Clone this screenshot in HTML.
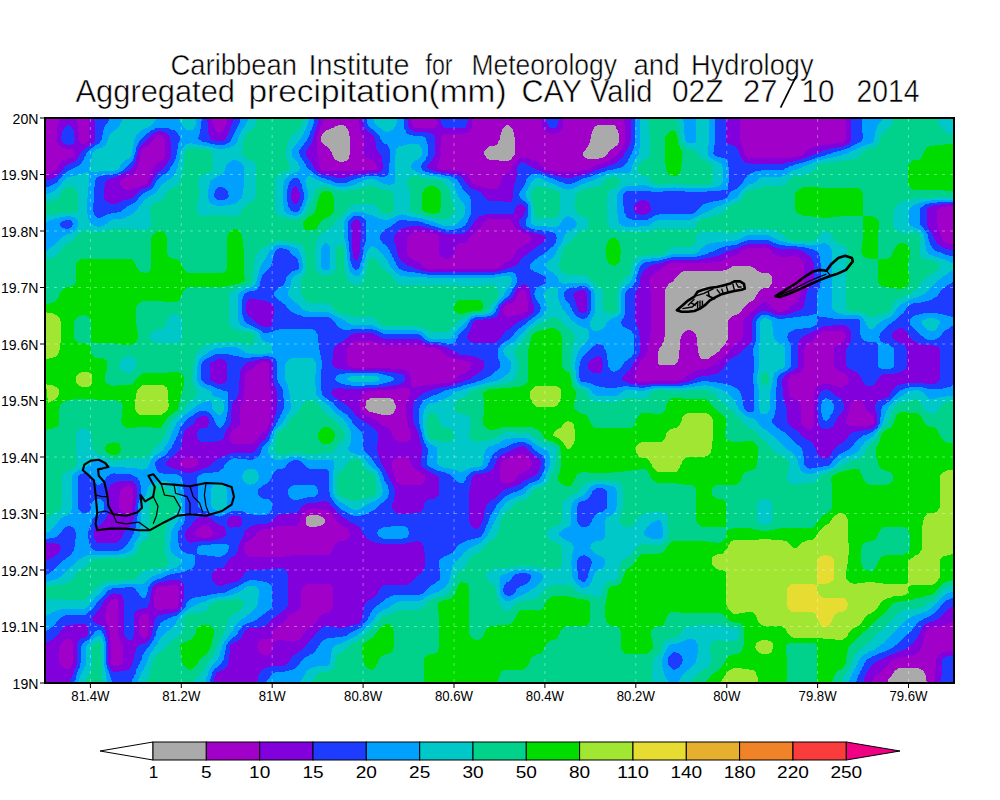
<!DOCTYPE html>
<html><head><meta charset="utf-8"><style>
html,body{margin:0;padding:0;background:#fff;width:1000px;height:800px;overflow:hidden}
svg{display:block}
text{font-family:"Liberation Sans",sans-serif;fill:#000}
.t1{font-size:29.5px;stroke:#fff;stroke-width:0.5px;paint-order:fill stroke}
.t2{font-size:32px;stroke:#fff;stroke-width:0.5px;paint-order:fill stroke}
.ax{font-size:15px}
.cb{font-size:17px}
</style></head><body>
<svg width="1000" height="800" viewBox="0 0 1000 800">
<rect width="1000" height="800" fill="#fff"/>
<defs><clipPath id="pc"><rect x="45" y="118" width="909" height="565"/></clipPath></defs>
<g clip-path="url(#pc)" shape-rendering="crispEdges">
<rect x="45.5" y="117.5" width="908" height="565" fill="#aaaaaa"/>
<path fill="#a000c8" d="M954 118L954 682L927 682L926 680L926 676L924 672L922 670L918 668L898 668L898 669L896 670L895 670L894 672L894 673L892 674L892 675L891 676L890 678L889 678L888 680L888 681L887 682L46 682L46 118ZM337 126L336 126L334 127L333 128L332 128L328 130L326 130L322 134L322 135L321 136L321 142L322 142L323 144L325 146L326 146L328 147L328 148L330 149L330 150L331 152L332 153L332 154L335 160L336 160L338 161L339 162L343 162L344 161L346 161L349 158L349 156L350 154L350 136L349 136L349 132L348 130L348 129L346 128L346 126L344 126L344 125L338 125ZM503 128L502 130L502 131L501 132L501 134L500 136L500 139L499 140L498 142L498 143L496 145L494 146L490 146L488 147L485 150L484 152L484 154L485 156L486 157L486 158L490 160L498 160L500 161L508 161L510 160L512 158L513 156L514 156L515 154L515 138L514 136L514 132L513 132L513 130L512 128L511 128L510 126L509 126L508 125L506 125ZM595 126L592 132L592 133L591 134L591 138L590 140L590 142L588 146L586 148L586 149L583 152L583 156L584 156L585 158L586 158L588 159L598 159L600 158L602 158L604 157L608 153L608 152L610 150L612 149L614 147L616 146L618 144L619 142L619 134L618 132L618 130L617 130L616 128L616 126L615 126L614 125L598 125L596 126ZM729 268L728 269L726 270L724 270L722 271L684 271L680 273L677 276L676 278L675 278L674 280L672 282L671 282L670 283L668 284L668 285L667 286L665 290L665 336L664 338L664 341L663 342L662 344L662 345L661 346L660 348L659 348L659 350L658 352L658 364L660 365L674 365L676 364L677 362L678 362L678 360L679 358L679 350L680 349L680 340L681 338L681 336L682 335L682 334L684 332L688 330L690 330L692 331L693 332L694 332L695 334L696 334L696 336L697 338L697 346L698 346L698 352L699 354L699 356L700 357L700 358L702 359L708 359L710 357L714 355L717 352L718 352L720 350L721 348L722 348L723 346L726 343L726 342L727 340L728 339L728 320L732 316L733 316L734 315L736 315L737 314L738 314L742 310L743 308L748 303L752 301L755 298L757 294L758 293L758 292L760 290L764 288L768 288L770 286L771 284L772 283L772 277L771 276L770 274L769 274L768 273L762 273L760 272L759 272L758 271L756 270L754 268L753 268L752 267L750 266L732 266L730 268ZM370 398L368 400L367 400L366 402L366 405L365 406L365 408L366 408L367 410L368 411L370 412L372 412L374 413L376 413L378 414L380 414L382 415L390 415L391 414L392 414L394 412L396 408L396 406L394 402L394 401L392 399L390 398ZM307 516L306 518L306 520L305 520L306 521L306 524L307 526L308 526L310 527L316 527L318 526L320 526L322 525L323 524L324 524L325 522L325 520L324 518L318 515L310 515L308 516Z"/>
<path fill="#8200dc" d="M59 119L60 118L76 118L77 120L77 124L78 125L78 132L79 134L79 140L80 141L80 142L81 144L84 144L88 142L89 140L89 118L212 118L212 120L213 122L213 124L214 124L214 126L215 128L215 130L216 130L217 132L218 132L220 133L222 132L223 130L224 129L224 128L225 126L226 125L226 124L227 122L227 120L228 119L228 118L325 118L323 120L323 122L322 124L322 125L321 126L320 128L320 129L319 130L319 132L317 136L317 154L318 154L318 158L319 160L319 166L320 167L320 168L321 170L322 170L324 171L362 171L364 170L374 170L376 169L377 168L377 166L376 164L376 163L374 162L374 161L372 160L370 160L370 159L368 158L366 158L366 157L364 156L364 154L363 154L363 150L364 148L364 137L362 136L362 134L361 134L360 132L360 126L359 126L359 118L411 118L411 122L412 123L412 124L413 126L415 128L435 128L436 127L436 124L437 122L437 118L472 118L472 127L471 128L470 130L470 131L469 132L467 132L466 133L464 133L463 134L443 134L441 138L441 154L440 156L440 159L439 160L439 162L437 166L437 168L438 168L442 170L450 170L452 171L458 171L459 172L462 172L464 173L465 174L466 174L468 175L468 176L469 178L470 178L470 180L471 182L472 182L473 184L474 184L476 185L477 186L480 186L482 187L484 187L485 188L486 188L488 189L496 189L500 185L500 184L502 180L502 178L503 176L504 176L505 174L506 174L508 172L509 172L511 170L515 162L518 159L520 158L521 158L522 157L524 158L528 158L530 159L531 160L534 160L536 161L536 162L538 162L540 163L540 164L542 165L542 166L544 167L544 168L546 169L547 170L550 170L552 171L556 171L557 172L575 172L578 171L582 171L584 170L587 170L588 169L590 168L591 168L592 167L598 164L600 164L604 162L606 162L610 160L612 158L613 158L619 152L620 150L622 148L625 142L625 126L624 124L624 118L740 118L740 140L742 144L742 146L743 148L743 150L744 150L744 152L745 154L745 156L746 156L748 158L790 158L792 157L796 157L798 156L800 156L802 155L808 149L810 148L811 148L812 147L814 147L816 146L818 146L820 145L824 145L826 144L833 144L834 143L842 143L844 142L845 140L846 139L846 118L954 118L954 205L952 206L948 206L946 207L942 207L940 208L938 210L937 210L937 224L938 224L938 228L939 230L939 232L940 232L940 234L941 236L941 238L942 239L942 240L944 242L946 243L947 244L950 244L952 245L954 245L954 621L952 622L951 622L950 623L948 624L947 624L946 625L944 625L942 626L939 626L938 627L932 627L930 628L929 628L928 629L926 630L926 632L925 632L925 636L924 638L924 641L923 642L923 644L922 646L922 648L921 648L920 650L920 651L918 652L918 653L916 654L915 654L914 655L912 656L907 656L906 657L902 657L900 658L896 658L896 659L894 660L893 660L892 661L890 662L890 663L888 664L888 665L886 666L886 667L884 668L884 669L882 670L882 671L880 672L880 673L878 674L878 675L876 676L876 677L874 678L874 680L873 680L872 682L46 682L46 175L48 174L50 174L51 173L54 172L56 170L57 168L58 167L58 166L59 164L61 162L61 161L64 160L68 158L70 158L72 157L74 155L74 151L72 150L72 149L66 149L64 148L62 148L60 146L59 146L57 142L57 128L58 126L58 124L59 122ZM156 136L154 138L152 142L148 146L146 147L144 147L143 148L141 152L141 154L140 156L140 160L139 162L139 164L138 166L138 168L136 172L135 172L132 175L130 175L122 179L121 180L120 182L120 184L121 186L122 187L122 188L124 189L126 189L126 190L130 190L134 188L135 188L136 187L138 186L140 186L142 185L144 185L146 184L147 184L148 182L148 180L150 176L150 174L153 168L154 167L154 166L156 164L158 163L160 161L162 160L164 158L165 156L165 140L164 138L164 137L162 136L162 135L158 135ZM487 220L486 221L484 222L482 224L482 225L478 229L476 230L470 236L470 237L469 238L468 240L466 242L465 242L464 243L460 243L458 244L456 246L456 248L455 248L455 250L454 252L454 253L453 254L452 256L450 258L448 259L446 259L444 258L443 258L442 257L440 256L440 254L439 254L439 238L438 236L438 235L436 234L434 234L432 233L426 233L424 232L414 232L410 234L408 236L408 237L407 238L407 254L408 254L408 256L410 257L410 258L412 259L413 260L414 260L416 261L418 261L418 262L420 263L422 265L422 266L424 267L425 268L426 268L428 269L496 269L500 267L505 262L506 262L508 261L509 260L510 260L514 256L515 254L516 253L516 252L517 250L518 250L519 248L520 248L522 246L523 246L524 245L526 244L527 244L531 240L531 238L530 236L526 234L525 234L524 233L522 233L520 232L518 232L518 231L516 230L516 229L515 228L514 226L514 225L513 224L512 222L512 221L510 220L510 219L490 219L488 220ZM748 248L744 250L743 250L742 251L740 252L738 254L737 254L736 255L734 256L732 256L730 257L729 258L728 258L724 260L723 260L722 261L720 262L710 262L708 263L670 263L666 265L664 267L662 268L662 269L656 272L654 274L653 274L651 276L650 278L650 279L649 280L649 282L650 283L650 290L651 292L651 332L650 334L650 340L649 342L649 344L648 346L648 351L647 352L646 354L646 355L641 360L638 366L638 368L636 372L636 374L635 374L635 376L634 378L635 380L636 380L640 382L650 382L652 381L678 381L680 380L681 380L683 378L684 378L686 376L688 375L689 374L690 374L698 370L700 370L702 369L706 369L710 367L711 366L712 366L716 362L718 361L719 360L720 360L722 358L724 357L724 356L726 355L726 354L728 353L728 352L730 350L731 348L735 344L736 344L738 342L740 341L742 339L742 338L743 336L743 322L745 318L746 318L747 316L748 316L749 314L750 314L751 312L752 312L753 310L754 310L758 306L760 305L762 303L764 302L766 302L768 303L768 304L770 305L770 306L774 310L778 312L782 312L786 310L787 310L790 307L790 306L792 305L793 304L794 304L796 303L796 302L798 301L798 300L799 298L800 297L800 294L801 292L801 290L802 289L802 286L803 284L804 283L804 263L803 262L802 260L801 260L800 258L799 258L798 257L796 257L794 256L790 256L788 257L780 257L778 256L776 256L774 254L773 254L772 252L772 251L770 250L770 249L768 248L766 248L764 247L762 248ZM521 290L519 292L518 294L518 295L517 296L516 298L516 299L515 300L514 302L513 302L512 303L510 304L508 304L504 306L504 307L503 308L503 310L504 311L504 314L505 316L506 316L508 317L510 317L512 316L514 316L516 315L518 315L520 314L522 314L526 312L528 310L528 301L527 300L527 296L526 294L526 291L524 290ZM820 333L818 335L816 336L816 337L812 341L810 342L809 342L808 343L806 344L806 345L805 346L804 348L804 367L803 368L802 370L802 371L800 372L800 373L798 373L794 375L792 375L790 376L790 377L789 378L788 380L788 386L789 388L789 396L790 396L791 398L792 398L794 400L796 400L798 401L798 402L800 403L800 404L801 406L801 422L803 426L805 428L806 428L810 430L812 429L812 428L813 426L814 426L814 394L815 392L815 390L816 390L816 388L818 387L818 386L822 384L830 384L834 386L836 386L838 387L842 387L846 385L848 383L848 382L849 380L849 378L848 376L847 376L846 374L845 374L844 373L842 372L840 372L838 371L835 368L834 366L834 348L836 346L838 345L839 344L840 344L842 343L844 341L844 340L845 338L846 337L846 336L844 332L843 332L842 331L824 331ZM352 343L349 346L348 348L347 348L347 364L348 366L350 367L352 367L354 368L390 368L392 369L402 369L404 370L406 370L410 374L410 376L411 378L411 386L412 387L414 388L416 387L418 387L420 386L424 386L426 385L430 385L432 384L438 384L440 383L448 383L450 382L452 382L454 380L456 379L456 378L458 377L458 376L466 372L470 368L471 366L471 364L468 361L466 361L464 360L460 360L458 359L456 359L454 358L452 358L444 354L440 350L434 347L426 347L424 346L422 346L420 345L384 345L382 344L380 344L378 343L376 343L372 341L356 341ZM262 362L258 364L257 364L252 369L250 370L249 370L247 372L246 374L246 375L245 376L245 388L244 390L244 397L243 398L243 400L242 402L241 402L241 404L240 406L240 424L238 426L238 427L236 428L235 428L234 429L232 430L232 431L231 432L230 434L230 440L231 442L233 444L252 444L254 442L256 441L256 440L258 438L259 436L260 436L261 434L262 433L262 432L264 431L265 430L266 430L267 428L268 427L268 426L269 424L269 422L270 421L270 414L271 412L271 390L270 388L270 383L269 382L269 364L268 362ZM402 388L400 389L396 389L394 390L378 390L376 391L368 391L366 392L365 392L363 394L362 396L361 396L361 398L360 400L360 410L361 412L362 412L363 414L364 414L366 416L368 417L370 417L376 420L378 422L380 423L380 424L388 428L390 430L392 434L392 436L394 438L395 440L396 440L398 442L406 442L408 441L411 438L411 434L410 432L410 430L408 426L408 422L407 422L407 416L406 414L406 404L407 402L407 400L408 400L408 398L409 396L410 396L410 389L408 388ZM854 400L852 402L851 402L850 404L850 407L849 408L849 412L848 414L848 416L847 416L847 418L846 420L846 424L848 425L849 426L868 426L870 425L872 425L874 423L874 418L872 416L872 415L870 414L866 410L866 409L865 408L864 406L864 404L863 404L862 402L860 400ZM515 456L514 457L512 457L510 458L506 458L504 460L503 460L502 462L501 462L501 466L500 468L500 480L501 482L502 482L504 483L510 483L511 482L512 482L516 478L517 476L518 476L519 474L520 474L522 473L523 472L524 472L530 469L530 468L531 466L532 466L532 462L530 460L530 459L528 458L528 457L522 454L520 455L518 455L516 456ZM184 458L180 462L180 464L182 465L182 466L186 468L192 468L198 465L198 460L196 458L194 457L186 457ZM395 458L393 460L392 462L392 468L394 472L394 474L395 476L395 478L396 479L396 480L397 482L399 484L400 484L402 485L420 485L421 484L422 484L424 483L424 482L425 480L425 476L424 475L422 474L419 472L418 471L416 470L414 468L413 468L412 466L412 465L411 464L410 462L410 461L406 457L398 457L396 458ZM122 488L122 489L120 490L120 495L119 496L119 508L120 508L120 510L122 511L122 512L126 514L130 514L131 512L132 511L132 504L133 502L133 490L132 488L130 486L128 486L126 487L124 487ZM306 510L306 511L304 512L304 513L302 514L302 516L301 516L301 518L300 520L300 522L299 522L298 524L298 525L296 526L277 526L276 527L274 528L271 528L270 529L264 529L262 530L260 530L260 531L258 532L257 532L256 534L256 535L254 536L254 537L252 538L252 539L250 540L249 540L248 542L247 542L246 544L245 544L245 546L244 548L244 550L246 554L248 556L250 557L284 557L286 556L292 556L294 555L328 555L329 554L330 554L331 552L332 552L332 550L333 548L334 547L334 546L335 544L336 544L337 542L338 542L340 541L344 541L345 540L346 540L348 539L348 538L349 536L350 535L350 534L348 530L346 528L340 525L337 522L334 516L333 516L332 514L330 512L326 510L322 510L320 509L310 509L308 510ZM201 526L200 527L198 528L198 529L196 530L196 532L195 532L195 534L196 535L196 536L198 537L200 537L202 538L206 538L208 537L210 537L212 536L213 534L213 532L212 530L208 526L206 525L204 525L202 526ZM306 584L306 585L304 586L303 586L302 588L302 589L301 590L301 606L300 608L300 609L298 610L298 611L296 612L294 612L294 613L292 614L290 614L290 615L288 616L288 617L287 618L286 620L285 620L284 622L282 624L281 624L280 625L278 626L277 626L275 628L274 630L273 630L273 632L272 634L272 638L269 638L268 639L262 639L260 640L260 641L258 642L258 646L257 646L257 648L258 649L258 650L259 652L262 655L264 655L266 656L270 654L271 652L272 652L272 648L273 646L273 642L274 642L276 641L277 640L284 640L286 641L298 641L298 640L300 640L301 638L302 637L302 636L303 634L304 634L305 632L306 631L306 630L308 629L308 628L310 628L312 627L312 626L314 625L314 624L316 623L316 622L317 620L318 620L318 618L319 616L320 616L322 615L322 614L324 614L326 613L328 613L329 612L332 610L332 608L333 606L333 588L332 586L330 585L329 584ZM160 586L156 588L156 589L155 590L155 596L154 598L154 606L155 608L156 609L158 610L162 610L164 609L174 609L178 607L178 604L179 602L179 588L176 585L170 585L168 586ZM111 600L109 602L108 604L108 605L107 606L107 608L106 610L106 613L105 614L105 620L106 621L106 622L107 624L108 625L108 626L109 628L109 630L110 632L110 638L111 640L111 664L112 665L114 666L118 666L120 665L121 664L122 664L123 662L123 646L120 640L120 639L119 638L119 634L118 632L118 601L116 599L114 599L112 600ZM142 614L140 616L140 617L139 618L139 634L140 636L142 638L146 638L147 636L148 635L148 630L149 628L149 616L147 614ZM64 640L62 642L62 643L60 644L60 646L59 646L59 662L60 663L60 664L61 666L62 667L66 669L70 669L70 668L73 662L73 644L72 642L72 641L70 639L66 639ZM563 118L563 126L562 128L562 129L558 133L556 133L554 134L551 134L550 133L548 133L546 132L546 131L544 130L544 129L543 128L542 126L542 118ZM948 652L950 651L954 651L954 682L934 682L934 680L935 678L935 670L936 669L936 660L937 658L938 657L938 656L939 654L940 654L942 653L943 652Z"/>
<path fill="#1e3cff" d="M207 118L207 122L208 123L208 132L209 134L209 136L210 137L210 138L211 140L214 140L216 141L222 141L224 140L225 140L226 139L226 138L227 136L228 135L228 134L230 130L230 128L233 122L233 120L234 119L234 118L319 118L318 120L318 123L317 124L317 126L316 128L316 129L315 130L315 132L314 134L314 136L313 138L313 140L311 144L309 146L306 152L306 156L307 158L308 158L309 160L310 161L310 162L312 163L312 164L313 166L314 167L314 168L315 170L316 170L317 172L318 172L320 173L320 174L322 174L324 175L326 175L327 176L332 176L334 177L336 177L337 178L344 178L346 177L348 177L350 176L352 176L354 175L358 175L360 174L366 174L368 173L378 173L380 172L382 170L383 168L383 164L382 162L382 157L381 156L380 154L380 153L378 152L378 151L377 150L376 148L376 143L375 142L375 140L374 138L374 136L373 136L372 134L371 134L370 133L368 132L366 130L366 129L364 128L364 124L363 124L363 118L407 118L407 120L408 121L408 126L409 128L410 128L410 130L412 130L414 131L414 132L426 132L428 133L430 133L431 134L432 134L434 135L434 136L435 138L435 154L434 156L434 157L433 158L432 160L428 164L428 165L427 166L427 168L428 168L430 170L432 170L434 171L436 171L437 172L440 172L442 173L448 173L450 174L454 174L456 175L458 175L458 176L460 176L462 178L464 179L464 180L465 182L466 182L466 184L468 185L468 186L470 187L470 188L472 189L473 189L474 190L476 190L478 191L479 192L480 192L482 194L483 196L484 196L485 198L486 198L487 200L488 200L490 201L502 201L503 202L511 202L512 201L512 200L513 198L513 190L514 188L514 184L515 182L516 181L516 178L517 176L517 168L519 164L520 163L522 162L524 163L526 163L526 164L528 165L529 166L530 166L532 167L532 168L534 168L536 169L536 170L538 170L540 171L542 171L542 172L544 172L546 173L547 174L550 174L552 175L554 175L555 176L558 176L560 177L562 177L564 178L572 178L576 176L579 176L580 175L584 175L586 174L587 174L588 173L590 173L596 170L598 170L602 168L604 168L608 166L609 166L609 165L612 165L616 163L618 161L620 160L621 158L624 155L624 154L625 152L627 150L630 144L630 142L631 140L631 118L726 118L726 142L728 143L728 144L730 144L732 145L733 146L734 146L736 147L736 148L738 150L739 152L739 154L740 155L740 156L741 158L742 159L742 160L744 162L746 163L750 163L752 164L783 164L784 163L786 163L788 162L792 162L794 161L796 161L798 160L800 160L804 158L806 158L814 154L816 154L824 150L827 150L828 149L830 149L832 148L836 148L838 147L842 147L848 144L850 142L851 140L851 118L954 118L954 202L953 203L952 203L950 204L942 204L940 205L934 205L928 208L927 208L927 226L928 226L928 228L929 230L930 230L931 232L932 233L932 234L933 236L934 237L934 238L935 240L936 241L936 242L937 244L938 244L940 246L942 247L943 248L944 248L946 249L948 249L949 250L952 250L954 251L954 606L952 606L952 607L950 608L949 608L948 610L947 610L946 612L945 612L944 614L943 614L942 616L941 616L940 618L939 618L938 619L936 620L935 620L934 621L932 622L929 622L928 623L926 624L925 624L924 626L923 626L922 628L922 629L921 630L920 632L920 633L919 634L918 636L918 637L917 638L916 640L915 640L914 642L912 644L911 644L910 646L909 646L908 648L906 648L906 649L904 650L902 650L902 651L900 651L898 652L897 652L896 653L894 654L892 654L892 655L890 655L888 656L887 656L886 657L884 658L883 658L882 659L880 660L879 660L878 661L876 662L875 662L874 664L873 664L872 666L871 666L870 668L870 669L868 670L868 672L867 672L866 674L866 676L865 676L864 678L864 681L863 682L257 682L257 680L258 680L258 676L259 674L260 674L260 672L262 671L262 670L264 669L264 668L266 668L268 667L270 667L271 666L284 666L286 665L286 664L288 663L288 662L290 661L290 660L291 658L292 658L292 656L294 655L295 654L296 654L298 653L298 652L300 651L301 650L302 650L303 648L304 648L305 646L306 646L307 644L308 643L308 642L310 641L310 640L312 639L312 638L314 637L314 636L315 634L316 634L317 632L318 632L319 630L320 630L321 628L322 628L324 626L330 626L332 627L336 627L338 628L344 628L346 627L348 627L348 626L350 626L352 625L356 625L356 624L358 624L360 622L361 620L362 619L362 616L363 614L363 610L364 609L364 606L365 604L366 603L366 602L368 601L368 600L370 600L372 599L372 598L374 598L375 596L376 596L377 594L378 593L378 592L379 590L380 589L380 588L382 587L382 586L384 585L406 585L410 583L411 582L412 582L413 580L414 580L415 578L417 576L418 576L419 574L420 574L422 573L422 572L423 570L424 570L424 568L425 566L425 554L424 552L424 547L423 546L422 544L422 543L418 541L416 541L414 542L411 542L410 543L406 543L404 544L382 544L380 543L376 543L372 541L370 541L368 539L366 538L366 537L363 534L362 532L361 531L361 530L360 528L358 526L354 524L353 524L352 523L350 522L349 522L346 519L344 518L341 516L338 513L336 512L336 511L331 506L330 504L328 502L326 501L322 501L320 502L318 502L316 503L308 503L306 504L305 504L304 505L302 506L302 507L300 508L300 509L299 510L298 512L297 512L296 513L290 513L288 514L280 514L276 516L276 517L274 518L274 519L272 520L272 521L266 524L258 524L256 525L254 525L248 528L246 530L245 530L244 532L244 535L243 536L242 538L242 539L241 540L240 542L240 544L239 544L239 546L238 548L238 552L237 552L236 554L236 555L234 556L233 556L232 557L230 558L230 559L228 560L228 562L227 562L226 564L226 565L224 566L224 567L222 568L218 568L214 570L214 571L213 572L212 574L212 580L213 582L216 585L218 585L220 586L222 586L226 584L227 584L230 583L232 583L234 582L236 582L238 581L239 580L240 580L241 578L242 577L242 576L244 575L244 574L245 572L246 572L248 571L249 570L264 570L266 569L276 569L278 568L282 568L284 569L285 570L286 570L287 572L287 574L288 575L288 605L287 606L286 608L284 610L283 610L282 612L281 612L280 614L279 614L278 615L276 616L276 617L274 618L273 618L272 620L271 620L270 622L269 622L268 624L267 624L266 626L264 626L264 627L260 627L258 628L248 628L248 629L246 630L245 630L244 632L244 634L243 634L242 636L242 638L241 638L240 640L238 640L238 641L236 642L234 642L232 644L231 644L230 646L230 653L229 654L229 660L228 662L228 665L227 666L226 668L225 668L224 670L222 670L222 671L220 671L218 672L217 672L216 674L216 675L215 676L214 678L214 682L70 682L70 680L71 678L72 678L72 676L73 674L74 673L74 670L75 668L76 668L76 666L77 664L77 644L78 643L78 642L79 640L81 638L84 638L86 637L86 636L88 635L88 627L87 626L86 624L74 624L74 625L68 625L66 626L65 626L64 628L63 628L62 630L61 630L60 632L60 633L58 634L58 635L56 636L56 637L54 638L52 640L50 640L50 641L48 642L47 642L46 644L46 561L47 560L48 560L50 559L50 558L52 558L54 556L56 555L57 554L58 554L59 552L60 551L60 550L61 548L60 546L60 545L58 544L56 544L54 543L48 543L46 542L46 180L49 180L50 179L52 179L54 178L56 176L58 175L58 174L64 168L65 166L66 166L68 164L69 164L70 163L72 163L74 162L78 158L81 152L84 149L86 148L88 146L89 146L90 145L92 144L94 142L95 140L95 122L94 120L94 118ZM157 132L156 132L152 134L140 146L140 147L139 148L138 150L138 153L137 154L137 156L136 158L136 161L135 162L134 164L134 165L133 166L132 168L131 168L128 171L124 173L123 174L122 174L120 175L119 176L118 176L116 177L114 177L113 178L112 178L110 179L108 179L105 182L105 186L104 188L104 198L105 200L106 201L106 202L108 202L110 203L110 204L116 204L124 200L126 200L128 199L130 199L132 198L140 190L141 190L142 189L144 189L146 188L147 188L148 187L150 186L156 174L158 172L160 171L166 165L166 164L168 162L169 160L170 159L170 158L171 156L171 142L170 140L170 136L169 136L168 134L167 134L166 133L164 132L162 132L162 131L158 131ZM293 188L292 190L292 191L291 192L291 200L292 200L292 202L294 204L296 204L298 203L298 202L300 198L300 193L299 192L298 190L298 188L297 188L296 186L294 187ZM637 202L635 204L634 206L634 210L635 212L636 212L637 214L640 214L642 215L644 215L646 214L647 214L648 213L650 212L651 210L651 208L650 206L650 204L648 202L648 201L646 201L644 200L642 200L638 202ZM516 206L516 207L515 208L515 210L514 212L512 214L486 214L482 216L480 216L478 217L475 220L474 222L472 224L472 225L471 226L470 228L466 232L462 234L446 234L442 232L440 232L436 230L434 230L432 229L430 229L428 228L425 228L424 227L422 227L420 226L412 226L410 227L406 227L402 229L400 229L395 234L394 236L394 242L395 244L396 245L396 248L397 250L397 254L398 254L398 256L399 258L400 259L400 260L402 261L402 262L404 263L405 264L406 264L407 266L410 266L412 267L413 268L414 268L416 269L417 269L419 270L420 270L422 271L426 271L427 272L496 272L498 271L500 271L502 270L504 270L508 268L510 268L514 266L515 266L520 261L520 260L524 256L526 255L528 253L530 252L532 250L534 249L536 247L538 246L540 244L541 244L545 240L546 238L544 236L540 234L538 234L536 233L534 233L532 232L530 232L530 231L528 231L526 230L525 230L524 229L522 228L520 226L520 225L519 224L519 220L520 220L521 218L524 215L524 214L526 210L526 209L525 208L524 206L524 205L522 205L520 204ZM355 220L354 220L352 222L352 223L351 224L351 228L352 228L352 250L353 252L353 258L354 258L355 260L356 261L358 259L358 258L359 256L359 254L360 253L360 242L361 240L361 224L360 222L360 221L357 220L356 219ZM748 244L746 245L744 245L738 248L737 248L736 249L734 249L730 251L728 251L718 256L716 256L714 257L712 257L710 258L706 258L704 259L700 259L698 260L670 260L668 261L666 261L662 263L660 263L658 264L656 264L654 265L652 265L648 267L646 269L644 270L640 278L640 283L639 284L639 286L638 288L638 289L637 290L635 294L635 320L636 321L636 324L637 326L638 327L638 328L639 330L639 336L640 337L640 352L638 356L636 358L636 359L635 360L632 366L630 368L630 369L628 371L626 372L626 373L623 376L622 378L622 380L624 381L625 382L626 382L628 383L630 383L632 384L636 384L638 385L648 385L650 384L678 384L680 383L684 383L686 382L688 382L692 380L693 380L694 379L698 377L700 377L702 376L708 376L710 375L712 375L714 374L716 374L718 373L719 372L720 372L721 370L722 370L723 368L724 367L724 366L726 364L727 362L728 362L729 360L730 360L731 358L732 358L734 357L735 356L736 356L738 354L740 353L742 351L742 350L744 349L750 343L750 342L752 340L752 320L753 318L754 317L754 316L756 315L756 314L762 311L766 311L768 312L770 312L772 313L773 314L774 314L776 315L786 315L788 314L790 314L796 311L798 311L802 309L802 308L804 306L804 304L805 302L805 298L806 297L806 294L807 292L807 290L808 290L809 288L813 284L814 282L814 263L813 262L812 260L812 258L811 258L810 256L809 256L808 255L806 254L806 253L800 250L798 250L796 249L780 249L777 248L776 248L768 244ZM519 286L518 288L517 288L513 296L510 299L506 301L504 303L502 304L502 305L501 306L500 308L500 310L498 314L498 315L496 317L494 318L492 318L490 319L484 319L482 320L475 320L473 322L472 324L472 326L470 330L470 331L469 332L468 334L468 335L467 336L467 338L468 338L468 340L470 341L470 342L472 342L474 343L494 343L496 342L498 340L500 339L500 338L502 336L503 334L504 334L505 332L505 331L507 330L508 330L510 328L512 327L512 326L514 325L517 322L518 322L520 321L521 320L522 320L524 319L525 318L526 318L528 316L530 315L533 312L534 310L534 305L533 304L532 302L532 299L531 298L531 296L530 294L530 289L529 288L528 286L524 284L520 286ZM575 292L573 294L573 296L574 296L574 298L575 300L575 302L576 302L576 304L577 306L577 308L578 309L578 310L579 312L580 312L582 313L584 313L586 312L587 310L587 294L586 292L586 291L584 290L580 290L576 292ZM248 300L246 304L246 312L247 314L248 315L248 316L250 317L251 318L252 318L253 320L254 320L255 322L256 322L257 324L258 324L260 325L260 326L262 326L264 327L268 327L270 326L272 324L273 322L273 316L274 315L274 307L273 306L272 304L271 304L270 303L266 301L264 301L262 300L258 300L256 299L250 299ZM823 326L822 327L808 334L807 334L806 335L804 336L803 336L801 338L800 340L799 340L799 342L798 344L798 366L796 368L796 369L794 370L793 370L792 371L786 374L786 375L784 376L784 377L783 378L782 380L782 386L783 388L783 398L784 399L784 402L785 404L786 405L786 408L787 410L787 422L788 423L788 424L790 425L790 426L792 427L792 428L794 429L795 430L796 430L800 434L801 436L802 436L804 438L806 439L807 440L808 440L810 441L811 442L812 442L813 444L814 445L814 446L815 448L816 449L816 450L819 456L820 457L824 459L826 459L826 458L828 458L829 456L830 456L831 454L832 453L832 452L833 450L837 446L840 444L842 443L843 442L844 442L845 440L846 440L847 438L848 437L848 436L850 435L850 434L854 432L856 432L858 431L862 431L864 430L868 430L870 429L872 429L873 428L874 428L875 426L877 424L877 414L876 412L876 410L875 410L875 404L876 404L876 402L878 401L879 400L880 400L882 399L884 399L888 397L890 395L890 394L891 392L892 392L892 390L896 386L898 385L900 385L902 384L904 384L906 383L924 383L926 384L934 384L938 382L939 380L940 379L940 350L939 348L938 347L936 346L934 346L932 345L924 345L922 344L920 344L916 342L915 342L914 341L912 340L910 338L910 336L909 336L908 334L908 333L907 332L905 331L905 330L904 329L902 328L900 328L896 330L895 330L894 332L893 332L892 334L892 338L894 340L896 341L897 342L898 342L904 345L905 346L906 346L906 348L907 350L907 366L906 368L904 370L898 373L896 373L894 374L884 374L880 376L880 377L878 378L878 380L877 380L876 382L876 383L874 384L874 385L872 386L868 386L864 384L864 383L863 382L862 380L862 379L861 378L860 376L858 374L858 373L852 370L851 370L850 369L848 368L848 367L846 366L846 350L847 348L848 347L848 346L849 344L850 344L850 342L851 340L851 332L849 328L848 327L844 325L834 325L832 326ZM352 334L350 335L346 339L344 340L344 341L342 342L341 342L340 343L338 344L337 344L335 346L334 348L334 349L333 350L333 358L332 360L332 364L333 366L335 368L336 368L338 369L342 369L344 370L352 370L354 371L384 371L386 372L392 372L394 373L398 373L399 374L402 374L404 376L405 378L405 380L404 382L398 385L394 385L392 386L388 386L386 387L378 387L376 388L364 388L362 389L344 389L342 388L338 388L336 389L334 389L332 390L332 391L331 392L331 394L332 394L333 396L335 398L336 398L338 400L340 401L341 402L342 402L344 404L346 405L347 406L348 406L349 408L350 408L351 410L352 410L353 412L354 413L354 414L356 415L356 416L358 417L358 418L360 419L361 420L362 420L364 422L366 423L367 424L368 424L370 425L370 426L372 427L375 430L376 430L377 432L378 433L378 443L377 444L377 452L378 453L378 454L379 456L379 458L380 458L380 460L381 462L381 464L382 464L385 470L386 471L386 472L387 474L388 474L388 476L389 478L390 479L390 480L391 482L392 483L392 484L393 486L394 487L394 488L395 490L395 496L394 498L394 501L393 502L392 504L392 508L393 510L396 513L398 514L410 514L412 513L418 513L419 512L420 512L422 510L423 508L424 507L424 504L425 502L426 502L427 500L428 500L430 499L434 499L435 498L436 498L437 496L438 496L439 494L439 478L438 476L430 472L429 472L428 471L426 470L424 468L423 468L422 466L421 466L421 456L422 454L422 447L421 446L421 444L420 442L420 439L419 438L419 434L418 432L418 431L417 430L416 428L416 427L415 426L414 424L414 422L413 422L413 404L414 403L414 402L415 400L419 396L420 396L422 394L428 391L430 391L431 390L432 390L434 389L436 389L438 388L440 388L441 387L446 387L448 386L450 386L452 385L454 385L458 383L460 383L461 382L462 382L466 380L468 380L470 379L472 377L476 375L479 372L480 372L482 370L483 368L484 367L484 362L482 360L476 357L474 357L472 356L470 356L468 355L460 355L458 354L456 352L455 352L454 351L446 347L444 347L440 345L436 345L434 344L428 344L424 342L423 342L422 341L420 340L419 340L418 339L384 339L381 338L380 337L372 333L356 333L354 334ZM593 358L592 359L590 360L590 361L589 362L588 364L588 368L589 370L590 370L591 372L592 372L594 373L600 373L602 371L602 368L603 366L603 364L602 362L602 359L600 357L598 356L594 358ZM215 360L214 361L212 362L211 362L210 364L210 380L212 381L213 382L214 382L218 384L222 384L226 382L227 380L227 364L226 362L226 361L224 360L223 360L222 359L218 359L216 360ZM256 360L254 361L252 361L250 362L248 362L246 363L243 366L240 372L240 380L239 380L239 392L238 394L238 396L236 398L236 399L233 402L232 404L232 410L231 410L231 422L230 424L230 425L229 426L228 428L227 428L226 430L226 432L225 432L225 434L224 436L224 438L223 438L222 440L220 441L216 441L214 442L200 442L198 440L198 439L197 438L197 432L198 431L198 430L202 428L206 428L208 427L208 426L209 424L209 420L208 418L208 417L206 416L202 416L198 418L197 418L196 420L195 420L195 422L194 424L193 424L192 425L190 426L188 428L187 428L186 430L185 430L184 432L184 434L183 435L183 438L182 440L182 445L181 446L180 448L180 450L179 450L178 452L177 452L176 454L175 454L174 456L173 456L170 459L168 460L168 461L166 462L166 464L167 466L168 466L170 467L171 468L172 468L174 469L176 469L178 470L180 470L186 473L192 473L196 471L198 471L199 470L200 470L204 468L206 468L208 467L209 466L210 466L211 464L212 464L213 462L214 462L216 460L218 459L219 458L220 458L226 455L228 455L229 454L230 454L232 453L252 453L253 452L254 452L255 450L256 450L257 448L258 447L258 446L260 444L261 442L262 442L263 440L264 440L266 438L267 436L268 435L268 434L269 432L270 431L270 430L273 424L273 422L274 422L274 418L276 414L276 412L277 410L277 392L276 390L276 388L275 388L275 386L274 384L274 382L273 382L273 364L272 362L272 361L268 359L260 359L258 360ZM515 448L514 449L504 454L503 454L502 455L500 456L498 458L496 462L496 463L495 464L494 466L494 467L493 468L492 470L491 470L490 471L488 472L487 472L486 473L484 473L482 474L476 474L474 475L473 476L472 478L472 480L471 480L471 484L470 486L470 489L469 490L469 522L470 523L470 524L471 526L473 528L474 528L476 529L478 529L478 528L480 527L480 526L483 520L483 518L484 517L484 512L486 508L486 506L487 504L488 504L489 502L492 500L494 499L503 490L504 490L506 489L508 489L509 488L510 488L512 487L514 487L515 486L516 486L518 485L519 484L520 484L522 482L524 481L525 480L526 480L532 477L533 476L534 476L536 475L536 474L538 473L538 472L539 470L540 469L540 466L541 464L541 462L540 460L538 458L534 456L534 455L532 454L530 452L530 451L528 450L528 449L526 448L526 447L524 446L522 446L520 447L518 447L516 448ZM116 482L112 484L111 484L108 490L108 496L109 498L109 500L110 502L110 509L109 510L109 512L108 514L108 515L107 516L106 518L104 520L104 522L103 522L102 524L101 524L100 525L98 526L94 530L94 538L95 540L96 541L96 542L98 543L116 543L117 542L118 542L119 540L120 540L121 538L122 537L122 536L123 534L124 534L124 532L126 530L127 528L128 528L130 527L130 526L131 524L132 524L132 522L134 518L134 514L135 512L135 506L136 506L136 500L137 498L137 488L136 486L136 485L132 481L120 481L118 482ZM231 516L230 517L228 518L228 519L227 520L227 524L228 526L230 528L232 528L234 527L240 527L240 526L242 525L242 518L241 518L240 517L238 516ZM197 518L195 520L194 522L193 522L192 524L192 525L190 526L190 527L188 528L188 529L186 530L186 532L185 532L185 538L186 538L186 540L188 542L189 542L190 543L192 543L194 542L198 542L200 541L212 541L214 540L215 540L218 539L220 539L221 538L222 538L224 537L226 535L226 531L225 530L225 528L224 526L222 526L218 524L217 524L216 523L214 522L214 521L212 520L210 518L209 518L208 517L200 517L198 518ZM169 580L168 581L166 581L164 582L160 582L156 584L155 584L154 586L153 586L152 588L152 590L151 592L151 594L150 596L150 602L149 602L149 604L148 606L148 607L146 608L143 608L142 609L140 609L138 610L137 610L136 612L135 612L134 614L134 636L133 636L133 638L132 640L128 640L126 638L124 634L124 601L123 600L123 598L122 596L120 594L116 594L114 593L112 594L111 594L110 595L108 596L108 597L106 598L106 599L104 600L104 602L103 602L102 604L102 605L101 606L100 608L100 609L98 610L98 611L96 612L96 614L95 614L94 616L93 616L92 618L93 620L93 622L94 622L96 624L98 624L102 626L104 628L105 630L106 631L106 634L107 636L107 638L108 640L108 664L111 670L112 671L114 672L118 672L120 671L126 671L126 670L128 670L130 669L130 668L131 666L132 666L132 664L133 662L133 660L134 660L134 656L135 654L135 652L136 651L136 648L138 647L138 646L142 644L144 644L146 643L146 642L148 641L150 639L150 638L151 636L152 635L152 632L153 630L153 626L154 626L154 622L155 620L155 618L157 616L158 616L160 615L162 615L163 614L168 614L170 613L174 613L174 612L176 612L178 611L178 610L180 609L182 607L182 604L183 602L183 598L184 598L184 585L183 584L182 582L180 581L179 580ZM468 118L468 121L467 122L467 124L466 126L464 128L444 128L444 127L442 126L442 124L441 124L441 118ZM559 118L559 120L558 122L558 124L557 126L555 128L550 128L550 127L548 126L548 124L547 124L547 122L546 120L546 118ZM68 125L70 125L70 126L72 127L72 128L73 130L74 131L74 136L75 138L75 140L74 142L74 143L73 144L72 144L70 145L68 145L66 144L64 144L64 143L62 142L62 140L61 140L61 136L62 135L62 132L63 130L64 129L64 128L66 126ZM824 390L826 389L830 391L831 392L832 392L833 394L834 394L835 396L836 396L838 397L839 398L840 398L842 400L844 404L844 409L843 410L842 412L842 413L840 414L840 415L838 416L838 417L837 418L836 420L836 421L835 422L834 424L834 425L832 427L828 429L824 429L822 428L821 428L818 422L818 412L817 412L817 404L818 403L818 398L820 394L820 392L822 391L823 390ZM947 656L952 656L954 655L954 682L940 682L941 680L941 676L942 675L942 660L943 658L944 658L946 657Z"/>
<path fill="#00a0ff" d="M109 119L112 118L202 118L202 120L201 122L201 128L200 130L200 133L199 134L199 136L198 138L199 140L200 140L202 141L202 142L206 142L208 143L210 143L210 144L214 144L216 145L224 145L228 143L231 140L240 122L240 120L241 118L314 118L315 117L314 120L314 123L313 124L313 126L312 128L312 129L311 130L310 132L310 134L307 140L305 142L304 144L302 146L300 150L299 150L299 154L300 155L300 156L301 158L302 158L302 160L304 161L304 162L305 164L306 165L306 166L307 168L308 168L309 170L310 170L312 171L312 172L314 173L314 174L316 174L317 176L318 176L320 177L321 178L324 178L328 180L330 180L332 181L333 182L334 182L336 183L346 183L352 180L353 180L354 179L356 179L358 178L360 178L362 177L364 177L366 176L378 176L380 177L384 177L386 176L388 174L389 172L389 164L390 162L390 150L388 146L388 145L386 144L384 144L384 143L382 142L382 141L381 140L380 138L380 137L379 136L378 134L377 134L376 132L375 132L374 130L373 130L372 129L370 128L370 127L368 126L368 124L367 124L367 120L366 118L404 118L404 128L405 130L406 131L406 132L407 134L408 134L410 135L412 135L413 136L422 136L424 137L425 138L426 138L426 140L427 142L427 144L428 144L428 156L427 156L426 158L426 159L423 162L421 166L421 168L422 169L422 170L424 171L425 172L428 172L430 173L432 173L434 174L438 174L440 175L444 175L445 176L450 176L452 177L453 178L454 178L456 179L457 180L458 180L458 182L460 183L460 184L461 186L462 187L462 188L463 190L464 190L465 192L467 194L468 194L469 196L470 197L470 198L471 200L471 214L468 220L468 221L467 222L466 224L464 226L462 227L461 228L460 228L458 229L456 229L454 230L445 230L444 229L442 229L440 228L438 228L438 227L436 227L434 226L432 226L428 224L426 224L422 222L420 222L418 221L408 221L406 220L400 220L396 222L394 224L393 224L390 227L384 230L382 232L380 236L380 240L382 241L382 242L383 244L384 244L386 246L388 247L388 248L389 250L390 250L390 252L391 254L392 255L392 256L393 258L394 259L394 260L395 262L396 263L396 264L397 266L398 267L398 268L400 269L401 270L402 270L404 271L406 271L408 272L414 272L416 273L420 273L422 274L426 274L428 275L494 275L496 274L500 274L502 273L506 273L508 272L512 272L514 273L515 274L516 274L516 276L517 278L517 282L515 286L513 288L512 290L512 291L511 292L510 294L506 298L505 298L501 302L500 304L499 304L498 306L498 307L497 308L496 310L496 312L495 312L494 314L493 314L492 315L490 316L488 316L486 317L476 317L474 318L473 318L472 319L470 320L470 321L469 322L466 328L465 328L464 330L463 330L459 334L458 336L458 337L457 338L456 340L456 341L454 343L452 344L448 344L446 343L442 343L440 342L430 342L426 340L425 340L424 338L423 338L420 335L418 334L384 334L382 333L379 332L378 331L376 330L374 330L372 329L352 329L350 330L344 330L340 328L339 328L338 326L337 326L336 324L334 322L334 321L332 320L330 318L329 318L328 317L304 317L302 316L301 316L300 315L298 315L296 314L295 314L294 313L291 312L290 310L289 310L288 308L287 308L286 306L284 304L283 304L282 302L281 302L280 301L278 300L278 299L276 298L276 297L274 296L274 292L278 288L282 286L284 284L286 280L286 278L287 276L292 271L294 271L296 270L297 270L299 268L299 264L298 262L298 259L296 258L296 257L294 256L293 256L292 254L291 254L290 252L288 250L287 250L286 249L284 249L282 248L280 248L276 250L274 254L274 256L273 256L273 260L272 262L272 263L271 264L271 266L269 268L268 270L267 270L263 274L262 276L262 277L261 278L261 280L260 282L260 285L259 286L258 288L258 289L254 291L250 291L248 292L247 292L246 293L244 294L244 296L243 296L243 298L242 300L242 314L243 316L243 318L244 319L244 320L245 322L246 322L247 324L248 324L258 329L259 330L260 330L262 332L264 333L268 333L270 332L272 332L276 330L278 330L280 329L312 329L313 330L314 330L316 331L316 332L317 334L318 335L318 342L319 344L319 350L320 351L320 354L321 356L321 360L322 361L322 368L321 370L321 390L322 392L322 394L323 396L324 396L325 398L326 398L328 399L328 400L330 401L331 402L332 402L334 404L335 406L336 406L337 408L338 408L339 410L340 410L342 412L344 413L345 414L346 414L348 416L349 418L350 418L351 420L352 421L352 422L353 424L354 424L355 426L359 430L360 430L361 432L362 433L362 434L363 436L363 450L364 450L365 452L366 452L367 454L372 459L372 460L374 462L375 464L376 465L376 466L378 467L378 468L380 470L381 472L382 473L382 474L384 478L384 480L385 482L386 483L386 484L388 486L388 488L389 490L389 494L388 496L388 497L382 503L380 504L380 505L378 506L378 507L376 508L374 510L373 510L372 511L370 512L369 512L368 513L366 514L365 514L364 515L362 515L360 516L354 516L352 515L350 515L349 514L348 514L346 512L345 512L344 511L340 509L337 506L336 504L335 504L334 502L332 500L332 499L331 498L330 496L330 493L329 492L329 472L328 470L326 469L310 469L306 467L300 461L298 460L293 460L292 461L290 462L289 462L288 464L287 464L286 466L284 468L283 468L282 469L278 469L276 470L274 472L272 476L272 477L271 478L270 480L270 481L268 482L268 483L262 486L260 488L259 488L258 490L258 492L257 492L258 493L258 494L259 496L260 497L264 499L268 499L269 500L270 500L271 502L272 502L272 509L271 510L270 512L268 514L267 514L266 515L254 515L252 514L248 514L242 511L232 511L230 512L229 512L228 513L226 514L225 514L224 515L222 516L221 516L219 517L218 516L216 516L208 512L207 512L206 511L204 511L200 509L199 508L198 506L198 485L197 484L197 478L198 476L200 475L201 474L202 474L204 473L212 473L214 472L218 472L220 471L220 470L222 469L224 467L224 466L225 464L226 464L227 462L228 462L229 460L230 460L234 458L236 458L238 459L246 459L248 460L252 460L258 457L258 456L260 455L260 454L261 452L261 450L262 450L262 448L263 446L264 446L265 444L266 444L267 442L268 442L270 438L270 436L271 434L272 433L272 432L275 426L276 425L276 424L277 422L278 421L278 420L279 418L280 417L280 416L281 414L282 413L282 412L284 408L284 399L283 398L283 390L282 388L280 386L280 385L279 384L278 382L278 381L277 380L277 362L276 360L276 359L272 357L270 357L268 356L264 356L262 357L252 357L250 358L244 358L242 357L239 357L238 356L234 356L232 355L230 355L228 354L216 354L212 356L211 356L210 357L208 358L207 358L206 359L204 360L202 362L202 364L201 364L201 380L202 380L203 382L204 383L208 385L210 385L211 386L212 386L218 389L220 389L221 390L222 390L224 391L226 391L227 392L228 392L228 412L227 412L227 416L226 418L226 420L224 424L222 426L222 427L220 428L219 428L217 426L214 420L214 418L213 418L212 416L212 415L210 414L210 413L206 411L200 411L198 412L197 412L196 413L194 414L192 416L191 416L190 417L188 418L188 419L186 420L184 422L184 423L183 424L182 426L181 426L180 428L180 430L179 430L179 432L178 434L178 435L177 436L176 438L176 440L175 440L174 442L174 443L173 444L172 446L172 447L171 448L170 450L169 450L168 452L168 453L166 454L164 456L163 456L162 457L160 458L159 458L157 460L156 462L155 462L155 466L156 467L156 468L158 472L160 473L162 473L164 474L176 474L180 476L182 478L182 480L183 482L183 488L184 490L184 496L185 498L185 520L184 522L184 524L183 524L182 526L181 526L180 528L180 529L179 530L178 532L178 542L179 544L179 546L181 550L182 551L188 554L192 554L194 555L195 556L195 564L194 566L194 567L192 568L192 569L190 569L188 570L187 570L186 571L184 572L182 572L180 573L176 573L174 574L170 574L170 575L168 575L162 578L161 578L160 579L158 579L156 580L155 580L154 581L152 582L152 583L150 584L150 586L149 586L148 588L148 592L147 592L147 594L146 596L146 597L144 598L142 598L140 596L139 594L137 592L136 590L134 588L132 587L126 587L124 588L113 588L111 589L110 590L108 590L108 591L106 592L106 593L105 594L104 596L103 596L102 598L101 598L100 600L99 600L98 602L97 602L96 604L94 606L94 607L93 608L92 610L91 610L90 611L88 612L88 613L86 614L86 615L66 615L64 616L63 616L62 617L60 618L60 619L58 620L58 621L56 622L56 623L55 624L54 626L53 626L52 627L50 628L50 629L48 630L47 630L46 632L46 575L50 573L50 572L52 571L53 570L54 570L55 568L56 568L57 566L58 566L59 564L60 564L61 562L62 562L63 560L64 560L66 559L66 558L68 557L69 556L70 556L71 554L72 553L72 552L74 551L74 548L75 546L75 540L76 538L76 532L75 532L75 530L72 527L70 526L67 526L66 527L64 528L62 530L62 531L61 532L60 534L59 534L58 536L57 536L56 537L54 538L49 538L48 539L46 539L46 187L48 187L56 183L58 181L58 180L66 172L78 166L82 162L83 160L84 159L84 158L85 156L86 155L86 154L87 152L90 149L92 148L94 146L95 146L95 145L98 144L100 142L101 140L102 139L102 136L103 134L103 130L104 129L104 128L106 124L108 122L109 120ZM153 130L152 130L150 131L148 133L146 134L140 140L136 148L136 151L135 152L135 154L134 156L134 158L133 160L122 171L116 174L112 174L110 175L104 175L102 176L100 176L96 178L96 179L95 180L95 186L94 188L94 202L93 204L93 212L94 213L94 214L95 216L97 218L100 218L108 214L110 214L112 213L116 213L118 212L120 212L122 210L124 209L126 207L134 203L138 199L138 198L142 194L152 189L152 188L154 186L157 180L161 176L164 174L165 174L170 169L170 168L171 166L173 164L176 158L176 156L177 154L177 150L178 148L178 144L180 140L180 137L179 136L178 134L178 133L176 132L176 131L174 130L171 130L170 129L168 128L156 128L154 129ZM294 178L292 179L289 182L289 184L288 186L288 188L287 190L287 202L288 202L288 206L289 208L290 209L290 210L292 211L293 212L297 212L300 209L300 208L301 206L302 205L302 204L303 202L303 200L304 199L304 192L303 192L303 190L302 188L302 185L301 184L300 182L300 180L299 180L298 178ZM215 190L215 192L214 194L214 196L215 198L217 200L224 200L226 199L227 198L228 198L229 196L228 194L228 191L226 190L226 189L224 188L223 188L222 187L218 187ZM349 220L348 222L348 224L347 224L348 225L348 240L349 242L349 252L350 252L350 260L351 262L351 264L352 265L352 266L353 268L354 269L356 270L358 269L359 268L360 266L360 264L362 260L362 258L363 256L363 252L364 250L364 246L365 244L365 242L366 241L366 221L365 220L364 218L363 218L362 217L360 216L354 216L352 217ZM59 224L60 224L60 226L62 228L64 228L66 229L68 229L72 227L72 226L73 224L72 222L72 221L70 220L66 220L64 221L62 221ZM80 474L80 475L78 476L78 508L79 510L82 513L86 513L87 512L88 512L90 510L91 508L91 504L92 503L92 502L94 501L94 500L96 499L100 499L102 500L103 502L104 503L104 509L103 510L102 512L101 512L100 514L99 514L98 515L96 516L95 516L93 518L92 520L92 523L91 524L90 526L90 527L89 528L89 530L88 532L88 538L89 540L89 544L90 545L90 546L91 548L93 550L94 550L96 551L118 551L119 550L120 550L122 549L123 548L124 548L125 546L126 546L127 544L128 544L128 542L130 541L130 540L131 538L132 537L132 536L133 534L134 533L134 532L135 530L135 528L136 528L136 524L137 522L137 516L138 515L138 504L139 502L139 500L140 499L140 498L141 496L141 486L140 484L140 482L138 480L138 479L136 477L130 474L116 474L114 473L112 474L110 474L108 476L107 476L106 478L104 480L104 481L102 483L100 484L100 485L98 485L96 484L92 480L92 479L91 478L90 476L90 475L86 473L84 473L82 474ZM715 118L715 144L714 146L714 151L713 152L713 154L714 154L715 156L716 156L718 157L720 157L722 158L724 158L726 159L726 160L728 162L728 166L729 168L729 182L728 184L728 190L722 190L720 191L708 191L706 192L686 192L684 191L664 191L662 192L652 192L650 191L626 191L623 194L623 206L624 207L624 212L625 214L626 215L626 216L627 218L628 218L630 219L631 219L633 220L647 220L648 219L650 218L651 218L652 217L656 215L658 215L660 214L692 214L694 213L697 210L698 210L699 208L702 205L704 204L705 204L706 203L708 203L710 202L712 202L714 201L718 201L720 200L722 200L728 197L728 196L730 192L736 189L743 182L745 178L746 178L747 176L747 175L750 174L756 171L760 171L762 170L783 170L784 169L786 168L787 168L788 167L790 166L792 166L796 164L798 164L800 163L802 163L804 162L805 162L806 161L808 161L810 160L811 160L812 159L814 159L818 157L820 157L822 156L824 156L828 154L830 154L834 152L836 152L838 151L840 151L842 150L843 150L844 149L846 149L848 148L849 148L850 147L858 143L859 142L860 142L862 140L863 138L863 134L862 132L862 118L954 118L954 201L952 202L937 202L936 203L930 203L928 204L926 204L924 205L922 207L920 208L920 224L921 226L922 226L923 228L924 229L924 230L926 232L927 234L928 235L928 238L929 240L929 242L930 242L930 244L931 246L932 246L932 248L934 250L938 252L940 252L942 253L943 254L944 254L946 255L948 255L949 256L952 256L954 257L954 281L953 282L952 282L950 284L949 284L948 285L946 286L944 288L943 288L942 290L941 290L940 292L938 294L938 295L936 297L932 299L931 300L930 300L928 301L926 301L924 302L922 302L920 303L914 303L908 306L906 308L906 309L905 310L904 312L902 314L900 315L894 321L892 322L890 324L889 324L888 326L887 326L881 332L880 334L880 335L879 336L879 338L880 339L880 340L881 342L882 342L886 344L888 344L890 345L890 346L892 347L894 349L894 366L892 368L890 369L882 369L880 368L879 368L878 366L878 345L877 344L876 342L867 342L866 341L864 341L861 338L861 336L860 334L860 321L858 319L834 319L832 318L828 318L826 317L820 317L818 316L818 315L817 316L817 324L816 325L810 328L804 328L802 329L796 329L794 330L793 330L792 331L790 332L789 332L788 334L788 335L787 336L787 338L788 338L788 340L789 342L790 342L790 344L791 346L791 366L790 368L789 368L786 371L784 372L783 372L782 373L780 374L778 376L778 377L777 378L777 386L776 388L776 409L775 410L775 414L774 416L774 417L773 418L772 420L772 422L773 424L777 428L778 428L780 430L782 431L783 432L784 432L792 440L794 441L794 442L796 443L796 444L798 445L802 449L802 450L803 452L803 456L804 456L804 464L805 466L807 468L808 468L810 469L812 468L816 468L818 467L822 467L824 466L828 466L832 462L833 460L834 460L835 458L839 454L840 454L842 453L843 452L844 452L846 451L847 450L848 450L850 449L850 448L852 447L852 446L854 445L854 444L855 442L856 442L857 440L859 438L860 438L862 436L864 435L866 435L867 434L868 434L874 431L874 430L876 429L878 427L878 426L879 424L880 424L880 418L881 416L881 410L882 408L882 406L884 405L886 403L890 401L890 400L892 399L892 398L894 397L894 396L900 390L902 390L906 388L908 388L910 387L922 387L924 388L926 388L928 389L942 389L944 388L946 388L948 387L950 387L951 386L952 386L953 384L954 384L954 598L951 598L950 599L948 600L946 600L946 601L944 602L942 604L942 605L940 606L940 607L939 608L938 610L937 610L936 612L935 612L934 614L932 614L932 615L930 616L929 616L928 617L926 618L924 618L924 619L922 620L921 620L920 621L918 622L918 623L916 624L916 626L915 626L914 628L913 628L912 630L910 632L909 632L908 634L907 634L906 636L905 636L904 638L903 638L902 640L901 640L900 642L899 642L898 644L897 644L896 645L894 646L894 647L892 648L891 648L890 649L888 650L887 650L886 651L884 652L882 652L882 653L880 653L878 654L877 654L876 655L874 656L872 656L872 657L870 658L869 658L868 659L866 660L866 662L865 662L864 664L864 665L863 666L862 668L862 669L861 670L860 672L860 674L859 674L858 676L858 678L857 678L857 680L856 682L266 682L267 680L268 680L269 678L270 677L270 676L272 675L272 674L274 673L275 672L284 672L286 671L288 671L290 670L292 670L294 669L295 668L296 668L297 666L298 666L299 664L300 664L300 662L302 661L302 660L304 659L304 658L306 657L307 656L308 656L310 655L310 654L312 654L316 650L317 648L318 648L318 646L320 645L320 644L321 642L322 642L323 640L324 640L326 639L327 638L334 638L336 637L342 637L343 636L346 636L348 635L348 634L350 633L351 632L352 632L354 631L355 630L356 630L358 629L359 628L360 628L362 626L364 625L364 624L365 622L368 619L368 618L369 616L370 615L370 614L371 612L372 612L372 610L374 609L374 608L376 607L376 606L378 605L379 604L380 604L381 602L382 602L384 600L386 599L386 598L388 598L390 597L390 596L392 596L394 595L420 595L420 594L422 594L428 588L430 587L430 586L432 585L433 584L434 584L436 583L436 582L438 581L440 579L440 569L439 568L439 560L440 560L441 558L442 558L444 557L444 556L446 556L452 553L454 551L454 550L456 548L457 546L458 546L459 544L460 544L462 543L463 542L464 542L468 540L470 540L472 539L474 539L476 538L478 538L480 537L482 535L482 534L484 532L485 530L485 528L486 528L486 526L487 524L488 523L488 522L489 520L489 518L490 518L490 516L491 514L492 514L492 512L494 510L495 508L496 507L496 506L497 504L498 504L499 502L500 502L501 500L503 498L504 498L505 496L506 496L508 495L509 494L510 494L514 492L516 492L518 491L519 490L520 490L522 489L523 488L524 488L525 486L526 486L528 485L528 484L530 483L532 483L532 482L534 482L540 479L540 478L541 476L542 476L542 474L543 472L544 471L544 470L545 468L545 460L544 458L544 457L542 455L538 453L536 451L534 450L534 449L532 448L532 447L530 445L524 442L518 442L516 443L514 443L512 444L511 444L510 445L508 446L507 446L506 447L504 448L502 448L498 450L496 452L495 452L494 454L493 454L492 456L492 457L491 458L490 460L490 461L489 462L488 464L488 466L487 466L486 468L485 468L484 469L482 470L479 470L478 471L474 471L472 472L471 472L470 474L469 474L468 476L467 476L466 478L466 480L465 480L464 482L464 483L460 483L457 482L453 478L452 476L451 476L449 474L448 474L444 472L442 472L440 471L438 471L432 468L431 468L430 467L428 466L427 465L427 456L428 454L428 449L427 448L426 446L426 445L425 444L424 442L424 441L423 440L423 438L422 436L422 433L421 432L421 430L420 428L420 425L419 424L419 408L420 407L420 406L421 404L422 403L422 402L424 400L426 399L427 398L428 398L434 395L436 395L437 394L438 394L440 393L441 392L442 392L446 390L448 390L450 389L452 389L454 388L456 388L458 387L460 387L461 386L462 386L464 385L466 385L468 384L470 384L472 383L474 383L478 381L480 381L488 377L489 376L490 376L492 374L494 373L494 372L496 371L500 367L500 362L498 358L498 348L500 346L501 344L502 344L504 342L506 341L507 340L508 340L514 334L515 332L516 332L517 330L518 330L519 328L520 328L522 326L524 325L529 320L530 320L532 318L534 317L537 314L538 314L539 312L540 311L540 310L541 308L540 306L540 304L539 304L538 302L538 301L536 300L536 298L535 298L535 296L534 294L535 292L535 290L536 289L536 288L542 285L543 284L544 284L546 282L546 278L544 276L543 276L542 275L536 272L534 272L534 271L532 270L531 270L530 268L530 264L534 260L536 259L538 257L542 255L544 253L546 252L548 250L550 249L550 248L552 247L554 245L554 244L556 242L556 240L557 238L556 236L556 234L555 234L554 233L552 232L550 232L548 231L544 231L542 230L536 230L534 229L532 229L530 228L529 228L528 227L526 226L526 224L525 224L526 223L526 220L528 216L528 205L527 204L526 202L525 202L524 201L522 200L522 199L520 198L520 197L519 196L519 194L521 190L522 189L522 188L524 186L526 182L526 180L527 178L530 175L532 174L540 174L542 175L543 176L546 176L548 177L549 178L552 178L554 179L555 180L556 180L560 182L562 182L564 183L565 184L571 184L572 183L574 183L584 178L586 178L588 177L590 177L596 174L598 174L602 172L604 172L608 170L612 170L614 169L616 169L618 168L620 168L622 167L625 164L626 164L627 162L628 161L628 160L629 158L630 157L630 156L631 154L632 153L632 152L634 148L634 146L635 144L635 122L636 121L636 118ZM743 242L742 242L736 245L732 245L730 246L726 246L724 247L722 247L721 248L720 248L712 252L710 252L708 253L707 254L706 254L704 255L702 255L700 256L698 256L696 257L672 257L670 258L668 258L666 259L664 259L662 260L660 260L658 261L652 261L650 262L646 262L642 264L640 266L640 267L639 268L639 270L638 272L638 273L637 274L637 276L636 278L636 281L635 282L634 284L632 286L632 287L630 288L629 288L627 290L625 294L625 314L624 316L624 317L623 318L621 322L621 324L622 325L622 326L624 327L625 328L626 328L632 331L632 332L633 334L634 335L634 353L633 354L632 356L630 358L628 359L626 361L624 362L624 363L623 364L622 366L618 370L614 372L610 370L610 369L609 368L608 366L608 360L607 360L607 354L606 352L606 351L605 350L604 348L604 347L602 345L600 344L596 344L594 346L593 346L583 356L580 362L580 365L579 366L579 378L580 379L580 380L581 382L586 382L588 383L590 383L596 386L598 386L600 387L604 387L606 388L616 388L618 387L622 387L624 386L628 386L630 387L638 387L640 388L643 388L646 387L650 387L652 386L682 386L684 385L688 385L690 384L692 384L694 383L696 383L698 382L700 382L702 381L708 381L710 382L716 382L718 383L722 383L724 384L726 384L728 385L730 385L731 386L732 386L738 389L738 390L740 392L741 394L741 396L742 397L742 400L743 402L743 406L744 406L744 408L745 410L746 410L747 412L752 412L754 410L754 385L753 384L753 374L754 372L754 357L753 356L753 348L754 348L754 346L755 344L755 342L756 341L756 322L758 318L760 316L762 315L768 315L772 317L774 317L775 318L776 318L778 319L784 319L786 318L792 318L794 317L800 317L802 316L808 316L810 315L812 315L814 314L817 314L817 292L818 291L818 290L819 288L820 287L820 284L821 282L821 264L820 262L820 256L819 256L819 254L818 252L817 252L816 251L813 250L812 249L810 249L808 248L805 248L804 247L798 247L796 246L786 246L784 245L780 245L778 244L776 244L776 243L774 243L768 240L748 240L746 241L744 241ZM570 288L566 290L564 292L564 296L565 298L565 300L566 300L567 302L568 302L569 304L570 305L570 306L571 308L572 308L572 310L573 312L574 313L574 314L576 315L576 316L578 317L579 318L580 318L582 319L584 319L586 318L588 316L589 314L590 313L590 312L591 310L591 292L590 290L589 290L588 288L587 288L586 287L584 286L580 286L578 287L574 287L572 288ZM596 488L594 490L593 490L592 492L592 494L591 494L590 496L590 497L588 498L588 499L586 500L585 500L584 501L582 501L580 502L579 502L578 504L578 505L577 506L577 522L578 523L578 524L580 526L582 527L586 527L587 526L588 526L590 524L591 522L592 521L592 520L593 518L594 517L594 516L596 515L596 514L600 512L602 512L604 511L604 510L606 509L607 508L607 492L606 490L602 488ZM580 556L580 557L578 558L578 560L577 560L577 570L578 572L578 578L579 580L580 580L582 582L584 582L586 581L586 580L587 578L588 577L588 574L589 572L589 570L590 570L590 568L591 566L591 564L592 564L592 562L591 560L588 557L584 555L582 556ZM515 574L514 576L513 576L512 578L512 579L510 580L510 581L508 582L506 582L506 583L505 584L504 586L504 587L503 588L503 592L504 593L504 594L508 596L510 596L512 595L513 594L514 594L515 592L516 592L516 590L517 588L518 588L520 587L520 586L522 586L524 585L525 584L526 584L528 582L530 581L530 580L531 578L531 576L529 574L528 574L526 573L520 573L518 574ZM673 652L671 654L670 656L669 656L668 658L668 664L669 666L672 669L674 670L676 669L677 668L678 668L680 667L680 666L681 664L682 664L682 662L683 660L682 658L682 657L681 656L680 654L678 653L676 653L675 652ZM922 314L924 313L937 313L939 314L942 314L944 315L946 315L948 316L950 316L952 317L953 318L954 318L954 325L950 327L948 329L946 330L945 330L944 332L943 332L942 334L940 336L940 337L934 340L928 340L924 338L922 336L921 336L920 334L919 334L918 332L917 332L913 328L912 326L911 326L910 324L910 320L911 318L912 317L916 315L918 315L920 314ZM344 374L346 373L378 373L380 374L382 374L384 375L386 375L388 376L390 376L394 378L394 380L390 382L388 382L386 383L384 383L382 384L380 384L378 385L366 385L364 386L352 386L350 385L346 385L344 384L342 384L338 382L337 382L335 380L335 378L336 377L336 376L340 374ZM824 399L826 398L828 399L829 400L830 400L832 402L833 404L834 404L834 410L833 410L833 412L832 414L831 414L830 416L830 417L829 418L828 420L827 420L826 421L824 420L823 420L823 418L822 416L822 414L821 412L821 404L822 403L822 402L823 400ZM292 486L294 485L314 485L317 488L318 490L318 493L317 494L316 496L315 496L314 497L308 497L306 498L304 498L302 499L300 499L298 500L294 500L290 498L288 494L288 490L289 488L291 486ZM404 526L406 527L408 529L408 530L409 532L409 534L408 536L406 538L404 538L402 539L384 539L378 536L378 535L377 534L377 532L378 532L378 530L380 529L381 528L382 528L384 527L390 527L392 526ZM226 544L228 545L229 546L229 548L228 550L228 552L227 552L226 554L225 554L224 555L220 557L216 557L214 556L208 556L206 555L200 555L198 554L197 554L197 548L198 547L198 546L199 546L202 545L210 545L212 544ZM256 580L258 581L262 581L264 582L266 582L268 583L269 584L270 584L271 586L272 587L272 607L271 608L270 610L269 610L268 611L266 612L266 613L264 614L263 614L262 616L261 616L260 617L258 618L258 619L256 620L255 620L254 621L252 622L250 622L250 623L248 623L246 624L245 624L244 625L242 626L242 627L241 628L240 630L239 630L238 632L238 634L237 634L236 636L235 636L234 637L232 638L232 639L230 640L230 641L228 642L228 643L227 644L226 646L226 649L225 650L225 654L224 656L224 659L223 660L222 662L222 663L220 664L220 665L218 666L218 667L216 668L215 668L214 670L212 672L212 675L211 676L211 678L210 680L210 682L132 682L132 680L133 678L134 677L134 676L135 674L136 673L136 670L137 668L138 668L138 666L139 664L140 663L140 662L141 660L142 659L142 656L143 654L144 654L144 652L146 651L146 650L147 648L148 648L149 646L150 646L150 644L152 643L152 642L153 640L154 640L154 638L155 636L156 635L156 632L159 626L160 625L160 624L161 622L162 622L164 621L164 620L166 620L168 619L168 618L170 618L172 617L173 616L176 616L178 614L180 613L180 612L182 611L182 610L184 609L184 608L186 606L186 604L187 602L188 602L189 600L190 599L192 599L192 598L194 598L196 597L200 597L201 596L206 596L208 595L210 595L211 594L216 594L218 593L224 593L225 592L226 592L228 591L229 590L230 590L232 589L233 588L234 588L236 587L238 587L238 586L240 585L241 584L242 584L244 583L244 582L246 582L248 581L249 580ZM100 630L102 632L103 634L104 635L104 636L105 638L105 640L106 642L106 664L107 666L107 668L109 672L109 674L110 675L110 676L111 678L111 680L112 681L112 682L74 682L75 680L76 679L76 676L77 674L77 672L78 672L78 670L79 668L80 667L80 664L81 662L81 646L82 645L82 644L84 642L86 641L87 640L88 640L90 638L91 636L92 636L93 634L94 633L94 632L96 631L97 630Z"/>
<path fill="#00c8c8" d="M156 118L156 119L155 120L154 122L150 126L148 127L147 128L146 128L140 131L137 134L134 140L134 144L133 146L133 148L132 150L132 155L131 156L130 158L124 161L121 164L120 166L120 167L117 170L116 170L114 171L100 171L98 172L90 172L89 170L89 168L90 166L90 162L91 160L91 158L92 157L92 154L93 152L96 149L98 149L100 148L101 148L102 147L104 146L106 144L107 142L107 140L108 139L108 138L110 134L114 130L115 130L116 129L118 128L119 126L120 125L120 124L121 122L122 121L122 120L123 118ZM197 118L196 120L196 124L194 128L192 130L186 130L186 129L184 128L184 127L182 126L182 124L181 124L180 122L180 121L179 120L178 118ZM310 118L308 122L308 124L306 128L306 129L305 130L304 132L304 133L303 134L301 138L299 140L298 142L294 146L294 147L293 148L292 150L292 156L293 158L294 158L295 160L296 160L297 162L298 162L298 164L299 166L300 166L300 168L299 170L297 172L296 172L288 176L284 180L284 184L283 186L283 206L284 206L284 210L285 212L286 212L287 214L288 214L290 215L292 215L293 216L296 216L302 213L302 212L303 210L304 209L304 208L306 204L306 202L308 198L308 191L307 190L307 188L306 186L306 182L305 182L305 180L306 180L306 178L308 176L310 176L312 177L313 178L314 178L316 179L317 180L318 180L320 181L321 182L322 182L324 183L326 183L327 184L330 184L332 185L333 186L336 186L338 187L346 187L348 186L350 186L352 185L354 185L360 182L361 182L362 181L364 180L366 180L368 179L374 179L378 181L379 182L380 182L382 183L383 184L386 184L388 185L390 185L392 184L394 184L395 182L395 156L396 154L396 150L397 148L398 147L400 146L402 146L404 145L406 145L408 144L418 144L420 145L420 146L421 148L422 148L422 155L421 156L420 158L418 159L417 160L416 160L414 161L413 162L411 166L411 168L412 169L412 170L414 170L416 171L416 172L418 172L420 173L421 174L424 174L426 175L428 175L430 176L436 176L438 177L442 177L442 178L446 178L448 179L449 180L450 180L451 182L452 182L453 184L454 185L454 186L455 188L455 190L456 190L456 192L457 194L458 195L458 196L459 198L460 199L460 200L462 201L462 202L464 203L464 204L465 206L465 214L464 216L456 224L455 224L454 225L452 226L443 226L442 225L440 224L438 224L438 223L436 223L434 222L433 222L432 221L430 221L428 220L426 220L422 218L418 218L416 217L412 217L410 216L407 216L406 215L404 215L402 214L400 215L398 215L397 216L396 216L394 217L393 218L392 218L388 220L384 220L382 219L380 219L378 218L377 218L376 217L372 215L370 215L368 214L366 214L366 213L364 213L362 212L354 212L350 214L348 216L347 216L344 222L344 238L345 240L345 242L346 243L346 248L347 250L347 260L348 260L348 266L349 268L349 270L350 271L350 272L352 274L354 275L355 276L358 276L360 274L361 272L362 271L362 270L363 268L363 266L364 265L364 262L365 260L365 258L366 257L366 254L369 248L370 247L372 246L378 249L378 250L380 251L380 252L382 253L382 254L384 255L384 256L385 258L386 258L387 260L388 261L388 262L389 264L390 265L390 266L391 268L392 268L393 270L394 270L395 272L397 274L398 274L400 276L406 276L408 277L426 277L428 278L494 278L496 277L500 277L502 276L510 276L511 278L512 278L512 282L511 282L511 284L510 286L508 288L508 289L506 290L506 291L505 292L504 294L504 295L503 296L502 298L501 298L500 300L499 300L498 302L496 304L496 305L495 306L494 308L494 309L490 313L488 314L486 314L484 315L476 315L474 316L472 316L470 317L465 322L464 324L463 324L460 327L458 328L458 329L455 332L454 334L452 336L452 337L450 339L432 339L430 338L428 338L428 337L426 336L426 335L424 334L424 333L422 332L421 332L420 331L418 331L416 330L383 330L382 329L380 329L372 325L352 325L350 324L349 324L348 323L346 322L346 321L344 320L343 320L342 319L340 318L338 318L338 317L336 316L335 316L334 315L332 314L331 314L330 313L328 312L310 312L308 311L306 311L304 310L303 310L302 308L301 308L300 306L299 306L298 304L297 304L296 303L294 302L294 301L292 300L288 296L288 292L289 290L289 288L290 288L290 286L291 284L291 280L292 280L292 278L294 276L300 273L301 272L303 268L303 264L302 262L302 258L300 254L300 253L299 252L298 250L296 248L294 248L294 247L292 247L290 246L289 246L288 245L276 245L275 246L274 246L270 250L266 258L264 260L264 261L263 262L260 268L260 269L259 270L259 272L258 274L258 276L257 278L257 280L256 282L256 283L255 284L254 286L250 288L248 288L244 290L243 290L242 291L240 292L238 294L238 320L241 326L242 326L246 328L248 328L250 329L252 329L253 330L254 330L256 331L260 335L260 336L262 340L266 342L268 342L270 343L270 344L272 346L272 352L270 353L268 353L266 354L254 354L252 353L250 354L248 353L246 353L244 352L242 350L241 350L240 349L236 347L224 347L222 348L216 348L212 350L211 350L210 351L208 352L206 354L205 354L204 355L202 356L200 358L198 362L198 365L197 366L197 382L198 382L198 384L200 385L200 386L206 389L207 390L208 390L212 392L212 394L213 396L214 396L216 397L218 397L219 398L220 398L222 400L224 404L224 410L222 414L220 415L218 415L215 412L214 410L213 410L212 408L212 402L210 401L208 401L206 402L204 402L200 404L199 404L198 405L196 406L194 408L192 409L190 411L188 412L186 414L185 414L184 416L183 416L179 420L178 422L177 422L176 424L176 425L175 426L174 428L174 429L173 430L172 432L172 434L171 434L171 436L166 446L165 446L164 448L164 449L162 451L160 452L160 453L158 454L157 454L156 455L154 456L154 457L152 458L152 459L151 460L150 462L150 464L149 464L148 466L148 467L146 469L144 469L142 470L140 469L138 469L136 468L126 468L124 467L112 467L108 465L106 463L104 462L104 461L100 459L96 459L94 460L93 460L89 464L88 466L87 466L86 467L84 468L83 468L82 469L80 470L78 470L78 471L76 472L75 472L74 474L73 474L72 476L72 510L71 510L71 512L70 514L68 514L68 515L66 516L64 516L64 517L62 518L61 518L60 520L59 520L58 522L56 524L56 525L54 526L54 527L52 529L50 530L50 531L48 532L47 532L46 533L46 251L48 249L50 248L51 247L53 246L54 246L55 244L62 237L68 234L70 234L72 232L73 232L77 228L78 226L78 220L77 220L76 218L75 218L74 217L72 217L70 216L66 216L64 217L60 217L58 218L56 218L52 220L50 220L48 221L47 222L46 222L46 194L48 194L54 191L57 188L58 188L59 186L62 183L62 182L66 178L68 177L70 177L72 176L75 176L76 175L78 175L80 174L82 174L86 172L88 172L89 174L89 186L88 188L88 196L87 198L87 214L88 214L88 218L89 220L90 221L90 222L91 224L92 224L94 226L96 226L98 227L100 227L102 226L103 226L104 225L106 224L108 222L114 219L122 219L124 218L125 218L126 217L128 216L129 216L130 215L132 214L138 208L139 206L140 206L141 204L143 202L144 200L146 199L148 197L152 195L153 194L154 194L158 190L159 188L160 187L160 186L162 184L164 183L166 181L170 179L174 175L174 174L176 172L176 170L177 168L178 167L178 164L179 162L179 160L180 159L180 154L181 152L181 150L182 149L182 148L186 144L188 144L190 143L191 143L192 144L196 144L198 145L202 145L203 146L208 146L210 147L212 147L213 148L216 148L218 149L224 149L226 148L229 148L230 147L232 146L233 146L235 144L236 144L238 140L238 138L243 128L245 126L249 118ZM229 162L228 164L227 164L226 166L226 167L225 168L225 170L224 172L222 174L220 175L219 176L218 176L216 177L215 178L214 178L212 180L211 180L210 182L210 184L209 186L209 188L208 190L208 198L209 200L209 202L210 202L211 204L212 204L214 205L215 205L217 206L224 206L226 205L230 205L232 204L234 204L236 203L237 202L238 202L239 200L242 197L242 196L243 194L243 188L244 187L244 166L243 166L242 164L242 163L239 162L238 161L236 160L232 160L230 162ZM324 244L322 246L322 247L321 248L321 268L322 268L323 270L328 270L330 268L330 246L329 246L328 244L327 244L326 243ZM397 118L397 122L396 124L396 126L395 126L394 128L392 130L388 132L385 132L384 131L382 130L382 129L380 128L379 128L378 126L377 126L376 124L375 124L374 122L374 121L373 120L372 118ZM683 118L683 122L684 123L684 134L685 136L685 140L686 141L686 142L688 143L694 143L696 141L696 118L709 118L709 144L708 146L708 156L710 157L710 158L712 159L713 160L714 160L716 161L717 162L718 162L720 163L721 164L722 164L722 166L723 168L723 182L722 184L720 185L719 186L718 186L716 187L714 187L712 188L676 188L674 187L672 188L653 188L652 187L650 187L648 186L646 186L646 185L638 185L637 186L626 186L624 187L623 188L622 188L618 192L618 193L617 194L617 214L618 214L618 220L619 222L619 224L620 224L622 226L624 226L626 227L638 227L640 226L648 226L650 224L651 224L653 222L654 222L658 220L690 220L696 217L697 216L698 216L706 212L707 212L708 211L710 210L711 210L712 209L718 206L720 206L728 202L729 202L730 201L736 198L738 196L739 194L740 193L740 192L746 186L747 186L748 185L750 184L752 184L754 182L755 182L758 179L760 178L761 178L761 177L780 177L782 176L784 176L786 174L787 174L788 173L794 170L796 170L800 168L801 168L802 167L804 166L806 166L810 164L811 164L812 163L814 162L816 162L820 160L822 160L824 159L826 159L828 158L832 158L834 157L836 157L838 156L840 156L844 154L846 154L854 150L855 150L856 149L858 148L859 148L860 147L862 146L864 146L868 144L870 144L872 143L873 142L874 140L874 138L875 136L875 132L876 131L876 130L877 128L877 126L878 125L878 124L882 120L883 118L954 118L954 200L932 200L930 201L926 201L924 202L922 202L920 203L918 203L917 204L916 204L912 206L910 208L909 210L909 224L910 225L910 226L912 226L914 227L914 228L916 228L918 229L919 230L920 230L921 232L922 232L923 234L924 235L924 238L925 240L925 246L926 247L926 250L927 252L928 253L928 254L930 255L932 255L932 256L934 256L936 257L937 257L939 258L940 258L942 259L944 259L945 260L946 260L947 261L950 262L954 264L954 269L952 271L948 273L946 275L942 277L940 279L938 280L938 281L936 282L924 294L916 298L914 298L910 300L909 300L908 301L906 302L905 302L904 303L902 304L901 304L897 308L896 310L894 312L894 313L890 317L884 320L883 320L882 321L880 322L878 324L877 324L876 326L874 328L872 329L870 329L868 328L868 327L867 326L866 324L866 323L865 322L864 320L864 319L862 318L862 317L860 316L859 316L858 315L844 315L842 314L840 314L836 312L835 312L834 310L833 310L832 308L832 249L830 248L830 247L828 245L826 244L826 243L822 243L821 244L820 244L818 245L806 245L804 244L792 244L790 243L788 243L786 242L783 242L782 241L780 241L778 240L777 240L776 239L768 235L748 235L746 236L744 236L742 238L741 238L740 239L738 240L736 240L734 241L724 241L722 242L716 242L714 243L710 243L709 244L708 244L704 246L702 248L701 248L700 250L698 252L694 254L672 254L670 255L668 255L667 256L666 256L664 257L662 257L660 258L652 258L650 259L644 259L640 261L637 264L636 266L636 267L635 268L635 270L634 272L634 274L632 278L632 280L631 280L630 282L628 284L626 285L623 288L622 290L622 292L621 292L621 312L620 314L619 314L618 316L617 316L616 317L614 318L612 318L610 320L609 320L608 322L607 322L606 324L606 325L602 329L598 331L594 331L592 330L590 326L590 322L591 320L592 319L592 318L593 316L594 315L594 314L595 312L595 294L594 292L594 290L593 290L592 288L592 287L590 286L590 285L588 284L587 284L586 283L568 283L566 284L564 284L560 282L559 282L559 280L558 278L558 277L556 276L556 275L554 274L552 272L551 272L550 271L548 270L548 269L546 268L546 267L545 266L547 262L549 260L550 260L554 256L555 254L556 253L556 252L557 250L558 249L558 248L559 246L561 244L563 240L563 238L564 237L564 236L565 234L566 233L570 231L572 229L574 228L576 226L577 224L576 222L576 221L574 220L574 219L568 216L564 218L562 220L562 221L561 222L560 224L558 226L556 227L548 227L546 226L534 226L534 225L532 224L531 224L531 206L530 204L530 203L529 202L528 200L528 199L526 198L526 196L525 196L526 195L526 192L527 190L528 189L528 188L529 186L530 185L530 184L531 182L534 179L536 178L540 178L542 179L543 180L544 180L546 181L547 182L548 182L550 183L552 183L552 184L554 184L556 185L557 186L558 186L560 187L561 188L562 188L564 189L566 189L568 190L570 189L572 189L582 184L584 184L588 182L589 182L590 181L592 181L602 176L603 176L604 175L606 174L609 174L610 173L628 173L630 172L632 168L632 166L637 156L639 154L639 148L640 147L640 118ZM552 287L556 287L558 289L558 298L559 300L559 302L560 303L560 304L561 306L562 307L562 308L563 310L564 310L565 312L566 313L566 314L568 315L568 316L570 318L571 320L572 320L573 322L574 322L576 324L578 325L579 326L580 326L584 328L586 328L588 329L588 330L589 332L589 338L588 340L580 348L580 349L579 350L578 352L578 353L577 354L577 356L576 358L576 360L575 362L575 370L576 370L576 378L577 380L577 382L578 382L579 384L580 385L582 386L584 386L590 389L590 390L592 392L593 394L594 394L596 396L616 396L618 395L619 394L620 394L622 392L626 390L636 390L638 391L644 391L646 390L648 390L650 389L652 389L654 388L686 388L688 387L694 387L696 386L702 386L704 385L705 385L708 386L712 386L716 388L718 388L720 389L721 390L722 390L724 391L725 392L726 392L728 394L730 395L730 396L732 397L732 398L734 399L734 400L735 402L736 402L736 404L737 406L738 406L738 408L739 410L740 410L741 412L745 416L746 416L750 418L752 418L756 420L757 422L758 422L758 424L760 426L762 427L762 428L764 429L765 430L766 430L768 432L770 433L770 434L772 435L777 440L778 440L779 442L780 442L781 444L782 444L783 446L784 446L785 448L786 448L787 450L788 450L790 451L793 454L794 454L795 456L796 456L797 458L797 460L798 460L798 464L800 468L800 470L802 472L806 474L812 474L814 473L816 473L817 472L820 471L822 471L824 470L826 470L828 469L830 469L830 468L832 468L838 462L840 461L840 460L848 456L850 456L852 455L853 454L854 454L856 453L857 452L858 452L859 450L860 449L860 448L861 446L862 446L863 444L864 443L864 442L866 441L867 440L868 440L870 438L872 437L874 435L874 434L876 433L876 432L878 430L879 428L880 428L881 426L882 425L882 424L884 420L884 418L885 416L885 414L886 414L886 412L887 410L888 409L888 408L889 406L890 406L891 404L892 404L893 402L894 402L898 398L900 397L901 396L902 396L904 395L904 394L910 391L912 391L914 390L918 390L924 393L924 394L926 395L926 396L928 398L930 399L934 399L936 398L937 398L940 397L944 397L946 396L954 396L954 591L952 592L950 592L949 593L948 593L946 594L945 594L944 596L943 596L942 598L941 598L940 600L939 600L938 602L937 602L936 604L935 604L934 606L933 606L932 608L931 608L930 609L928 610L926 612L924 612L921 613L920 614L918 614L914 616L912 616L912 617L910 618L909 618L908 619L906 620L906 621L904 622L904 623L902 624L902 625L900 626L900 627L898 628L898 629L896 630L896 631L894 632L894 633L892 634L890 636L890 637L888 638L888 639L886 640L886 641L884 642L882 644L881 644L880 646L879 646L878 647L876 648L876 649L874 650L872 650L872 651L870 651L868 652L868 653L866 654L864 654L864 655L862 656L862 657L860 658L860 660L859 660L858 662L858 664L857 664L856 666L856 667L855 668L854 670L854 671L853 672L852 674L852 676L851 676L850 678L850 680L849 680L849 682L678 682L679 680L680 680L680 678L682 677L682 676L683 674L684 674L685 672L686 672L687 670L688 670L690 669L690 668L692 667L692 666L694 665L694 664L696 663L696 660L697 658L697 654L698 653L698 645L697 644L696 642L696 641L695 640L694 640L692 639L688 639L686 640L685 640L684 641L682 642L680 642L680 643L678 643L676 644L671 644L670 645L668 646L668 648L667 648L666 650L666 652L665 652L664 654L664 656L663 656L663 658L662 660L662 666L663 668L663 670L664 672L664 674L667 680L669 682L300 682L301 680L302 679L302 678L304 677L304 676L305 674L306 673L306 672L307 670L308 670L310 669L310 668L312 668L314 667L316 667L317 666L328 666L329 664L330 664L330 660L331 658L331 652L332 651L332 648L334 647L334 646L338 644L340 644L342 643L343 642L344 642L346 641L347 640L348 640L350 639L351 638L352 638L354 637L355 636L356 636L358 635L358 634L360 633L361 632L362 632L363 630L364 630L365 628L366 628L367 626L368 626L369 624L370 624L371 622L372 622L373 620L374 620L374 618L376 617L376 616L377 614L378 614L379 612L380 612L382 611L382 610L384 610L386 609L387 608L388 608L390 607L390 606L392 605L393 604L394 604L396 602L398 602L400 601L420 601L420 600L421 600L424 599L424 598L426 597L427 596L428 596L430 595L431 594L432 594L434 593L436 593L436 592L438 592L440 591L440 590L442 590L443 588L444 588L446 586L447 584L448 584L449 582L449 580L450 580L450 576L451 574L451 570L452 569L452 566L453 564L454 563L454 562L456 561L459 558L460 558L461 556L462 556L463 554L463 553L465 552L467 550L468 550L469 548L472 547L473 546L474 546L476 545L477 544L478 544L480 543L481 542L482 542L483 540L484 540L485 538L486 538L487 536L488 535L488 534L489 532L490 532L490 530L491 528L492 528L492 526L493 524L494 524L494 522L495 520L496 519L496 518L497 516L498 515L498 514L499 512L500 511L500 510L501 508L502 508L503 506L504 505L504 504L506 503L506 502L508 501L509 500L510 500L512 499L513 498L514 498L518 496L520 496L522 495L523 494L524 494L526 492L527 490L528 490L529 488L530 488L532 486L534 485L536 485L537 484L538 484L542 482L544 480L545 478L545 476L546 476L546 474L547 472L548 471L548 470L549 468L549 466L550 466L550 458L549 456L549 454L548 452L548 451L538 446L537 446L534 443L532 442L532 441L530 440L529 440L528 439L526 438L512 438L510 439L506 439L504 440L503 440L502 441L500 442L500 443L498 444L496 444L492 446L489 446L488 448L487 448L486 450L485 450L485 452L484 454L484 459L483 460L483 464L481 466L479 467L474 467L472 468L470 468L462 472L460 472L456 470L454 470L452 469L450 469L448 468L444 468L440 466L439 466L437 464L437 448L436 447L430 444L426 440L426 438L425 438L425 436L424 434L424 428L423 428L423 414L424 413L424 410L425 408L426 407L426 406L428 405L428 404L430 403L434 403L436 402L437 402L440 401L441 400L442 400L452 395L452 394L458 391L460 391L461 390L462 390L464 389L466 389L467 388L468 388L470 387L472 387L474 386L476 386L478 385L480 385L482 384L484 384L486 383L488 383L490 382L492 382L494 381L496 381L497 380L498 380L500 379L501 378L502 378L504 376L506 375L510 371L510 370L511 368L511 362L510 360L509 360L508 358L507 358L505 356L504 354L504 352L503 352L503 350L504 350L504 348L506 347L506 346L512 343L513 342L514 342L516 340L517 338L518 338L519 336L531 324L532 324L536 320L540 318L542 316L544 315L544 314L545 312L546 312L546 310L547 308L546 306L546 302L545 302L545 300L544 298L544 297L543 296L543 294L544 292L546 290ZM596 484L592 486L591 486L590 488L589 488L588 490L586 492L586 493L584 494L584 495L582 496L581 496L580 497L578 498L577 498L576 499L574 500L574 501L573 502L572 504L572 505L571 506L571 524L570 526L569 526L568 527L566 528L565 528L564 529L562 530L560 532L559 532L559 536L560 536L562 538L564 539L566 541L568 541L572 543L572 544L573 546L574 547L574 550L573 550L573 552L572 554L572 560L571 560L571 566L572 567L572 576L575 582L576 583L576 584L578 585L580 587L582 588L584 588L586 587L588 587L588 586L590 585L590 584L591 582L592 582L592 580L593 578L593 576L594 575L594 574L595 572L597 570L598 570L600 569L602 569L602 568L604 567L604 566L605 564L605 560L604 558L603 558L602 557L596 554L595 554L591 550L590 548L591 546L591 544L592 544L593 542L594 542L596 541L600 541L604 539L604 538L605 536L605 520L606 520L606 518L608 517L609 516L610 516L612 514L614 513L614 512L616 510L616 508L617 506L617 492L616 490L616 488L615 488L614 487L612 486L610 486L608 485L606 485L604 484ZM657 520L656 521L654 522L652 522L652 523L650 524L650 525L648 526L648 527L646 528L646 529L645 530L644 532L644 533L643 534L644 534L645 536L646 536L652 539L660 539L661 538L662 538L663 536L663 528L662 526L662 524L660 520ZM514 570L514 571L512 571L510 572L509 572L508 573L506 574L503 574L502 575L500 576L500 578L499 578L500 580L500 584L499 586L500 588L500 594L502 598L504 600L506 601L510 601L511 600L512 600L518 597L519 596L520 596L522 595L523 594L524 594L526 593L527 592L528 592L530 591L530 590L532 589L533 588L534 588L536 586L538 585L538 584L540 583L540 582L542 581L542 580L543 578L543 576L542 574L538 572L536 572L534 571L532 571L530 570ZM934 318L938 320L940 322L940 323L939 324L938 326L938 327L934 331L930 331L928 330L927 330L923 326L922 324L922 322L923 320L924 320L928 318ZM762 319L764 318L766 318L768 319L769 320L770 320L772 322L772 326L773 328L773 336L774 337L774 338L775 340L777 342L778 342L780 344L782 344L783 346L784 346L785 348L785 366L782 369L780 369L778 370L776 372L775 372L774 374L774 376L773 378L773 382L772 384L772 388L771 388L771 390L770 392L770 409L769 410L768 412L766 414L761 414L760 412L760 410L759 408L759 390L758 388L758 385L757 384L757 374L758 373L758 370L759 368L759 344L760 344L760 322L761 320ZM312 358L314 359L314 360L315 362L316 362L316 373L315 374L315 386L316 387L316 394L317 396L323 402L324 402L326 404L328 405L330 407L330 408L332 409L332 410L336 414L338 415L340 417L342 418L344 420L345 422L346 422L347 424L348 425L348 426L349 428L350 429L350 430L351 432L351 442L350 444L350 445L349 446L348 448L348 450L350 452L352 453L354 453L358 455L360 455L363 458L364 458L365 460L366 460L367 462L368 463L368 464L370 466L372 467L372 468L374 469L378 473L378 474L380 478L380 480L381 482L381 484L382 485L382 488L383 490L383 492L382 494L382 495L381 496L380 498L379 498L378 499L376 500L376 501L374 501L368 504L367 504L366 505L364 506L364 507L358 510L354 510L348 507L347 506L346 506L344 504L343 504L342 503L340 502L339 502L335 498L334 496L334 495L333 494L333 470L334 469L334 461L332 460L308 460L304 458L302 458L300 457L290 457L288 458L287 458L286 459L284 459L282 460L276 460L272 458L270 456L270 455L269 454L268 452L268 448L269 446L270 445L270 444L271 442L272 441L272 440L273 438L273 436L274 435L274 432L275 430L276 430L277 428L283 422L285 418L286 417L286 416L287 414L288 414L291 408L291 404L290 402L290 395L289 394L289 390L288 388L288 385L287 384L286 382L286 380L285 380L285 364L286 363L286 362L288 360L292 358ZM376 376L378 377L379 378L379 380L378 381L376 381L374 382L351 382L350 381L348 380L347 380L347 378L348 378L352 376ZM246 470L248 469L254 469L255 470L256 470L257 472L258 473L258 474L259 476L259 478L258 480L254 484L251 484L250 485L248 484L246 484L244 482L242 478L242 476L245 470ZM156 482L158 481L166 481L168 482L170 482L174 484L176 486L177 488L177 490L178 491L178 492L180 496L180 498L181 500L181 502L182 503L182 510L181 510L181 514L180 516L180 518L179 518L178 520L178 521L177 522L176 524L175 524L174 526L174 527L173 528L172 530L172 531L171 532L171 540L170 542L170 548L171 550L171 552L172 552L173 554L174 555L176 556L178 558L179 558L181 560L182 562L182 563L180 565L178 566L178 567L176 568L173 568L172 569L170 570L168 570L168 571L166 571L164 572L163 572L162 573L160 574L157 574L156 575L154 576L152 576L152 577L150 578L149 578L148 580L147 580L146 582L145 582L144 584L120 584L118 585L110 585L108 586L107 586L106 587L104 588L104 589L102 590L102 592L101 592L100 594L99 594L98 595L96 596L96 597L94 598L94 599L93 600L92 602L91 602L90 604L90 605L88 606L88 607L86 608L85 608L84 609L62 609L60 610L57 610L56 611L54 612L52 612L52 613L50 614L48 614L48 615L46 616L46 582L48 581L50 581L52 580L54 580L56 579L58 579L58 578L60 577L61 576L62 576L63 574L64 574L65 572L66 572L67 570L68 570L69 568L70 568L71 566L72 566L74 564L76 563L76 562L78 561L78 560L80 559L81 558L82 558L84 557L84 556L86 556L88 555L118 555L120 554L124 554L130 551L131 550L132 550L134 546L134 544L135 542L136 542L136 540L138 538L139 536L140 535L140 528L141 526L141 504L142 504L142 502L143 500L144 499L144 498L145 496L146 496L146 494L147 492L147 490L148 489L148 488L149 486L150 486L151 484L152 484L154 483L155 482ZM216 484L218 483L220 483L222 484L223 484L226 487L226 488L227 490L227 506L226 508L224 510L223 510L221 511L218 511L216 510L215 510L214 509L212 508L211 506L211 488L212 487L212 486L214 485L215 484ZM255 586L256 587L258 588L259 590L259 596L258 598L258 604L257 604L257 606L256 608L255 608L254 610L253 610L252 612L251 612L250 614L249 614L248 615L246 616L246 617L244 618L243 618L242 619L240 620L238 622L238 623L236 624L236 625L235 626L234 628L234 629L233 630L232 632L231 632L230 634L230 635L228 636L228 637L227 638L226 640L225 640L224 642L224 644L223 644L222 646L222 649L221 650L220 652L220 655L219 656L218 658L218 659L217 660L216 662L215 662L214 664L213 664L212 666L212 667L210 668L210 670L209 670L208 672L208 675L207 676L206 678L206 682L138 682L138 680L139 678L140 677L140 676L141 674L141 672L142 672L143 670L144 669L144 668L145 666L146 665L146 664L147 662L147 660L148 660L148 658L149 656L150 655L150 654L151 652L152 652L153 650L154 649L154 648L155 646L156 646L157 644L158 643L158 642L159 640L160 639L160 638L162 637L162 636L164 635L164 634L166 633L166 632L168 631L169 630L170 630L171 628L172 628L173 626L174 626L175 624L176 623L176 622L177 620L178 620L178 618L180 617L180 616L182 615L182 614L184 613L184 612L186 611L187 610L188 610L189 608L190 608L192 607L193 606L196 605L197 604L198 604L200 603L201 602L204 602L206 601L207 600L208 600L210 599L212 599L212 598L216 598L218 597L224 597L226 596L228 596L230 595L232 595L233 594L234 594L236 593L238 593L238 592L240 592L241 590L242 590L244 589L244 588L246 587L247 586ZM100 636L102 638L103 640L103 642L104 643L104 666L105 668L105 672L106 673L106 678L107 680L107 682L78 682L79 680L79 678L80 678L80 676L81 674L82 673L82 672L83 670L84 669L84 668L85 666L86 665L86 646L88 645L88 644L90 643L90 642L92 641L92 640L94 639L94 638L96 637L97 636Z"/>
<path fill="#00d28c" d="M258 118L304 118L304 119L303 120L303 122L300 128L296 132L294 133L291 136L290 138L290 139L289 140L288 142L288 144L287 146L287 148L286 150L286 156L287 158L287 160L288 160L288 162L289 164L289 166L290 166L290 168L289 168L288 170L286 171L285 172L284 172L282 173L281 174L280 174L278 175L277 176L275 180L275 212L276 213L276 214L278 215L279 216L280 216L284 218L286 218L288 219L298 219L302 217L306 213L306 212L307 210L308 209L308 208L309 206L310 205L310 204L311 202L312 201L312 200L313 198L313 196L314 194L314 192L315 190L318 187L320 187L322 186L324 187L328 187L329 188L330 188L332 189L334 189L335 190L336 190L338 191L348 191L350 190L354 190L356 189L360 189L362 188L364 188L368 186L374 186L376 187L377 188L378 188L380 189L382 189L383 190L388 190L390 191L391 192L392 192L393 194L394 195L394 210L390 214L383 214L382 213L380 212L380 211L379 210L378 208L377 208L376 206L376 205L374 204L356 204L354 205L352 205L351 206L350 206L346 210L346 211L341 216L340 218L339 218L338 220L337 220L336 222L335 222L334 224L330 228L328 229L327 230L326 230L324 232L322 233L319 236L316 242L316 247L315 248L315 268L316 268L316 270L317 272L318 272L319 274L320 274L322 275L330 275L332 274L334 272L336 268L336 248L338 246L340 245L342 245L342 246L343 248L344 249L344 266L345 268L345 272L346 273L346 276L347 278L348 279L348 280L349 282L350 282L351 284L352 284L354 285L358 285L362 283L362 282L363 280L364 280L364 278L365 276L365 274L366 274L366 270L367 268L367 264L368 263L368 262L370 258L371 258L372 257L373 258L374 258L376 259L376 260L378 261L378 262L379 264L380 264L380 266L382 267L382 268L384 270L386 271L386 272L388 273L389 274L390 274L391 276L392 277L392 278L393 280L394 280L395 282L397 284L398 284L400 285L456 285L458 286L482 286L484 285L494 285L495 286L496 286L497 288L498 289L498 296L496 298L496 299L493 302L492 304L491 304L490 306L490 307L489 308L488 310L486 312L484 312L482 313L476 313L474 314L472 314L468 316L467 316L466 317L458 321L453 326L452 328L451 328L450 330L446 332L432 332L430 331L427 330L426 329L424 328L423 328L422 327L418 327L416 326L383 326L382 325L380 324L380 323L378 322L378 321L376 320L376 319L373 318L372 317L352 317L349 316L348 315L346 314L342 314L338 312L337 312L336 311L334 310L334 309L333 308L332 306L331 306L330 304L329 304L328 303L310 303L308 302L307 302L306 301L304 300L304 299L303 298L302 296L302 295L301 294L301 280L303 276L305 274L306 272L306 255L305 254L305 252L304 250L304 247L302 246L302 245L300 244L299 244L298 243L296 243L294 242L288 242L286 241L278 241L276 242L274 242L272 243L270 243L269 244L268 244L266 246L265 246L264 247L262 248L258 252L258 253L257 254L256 256L256 258L255 258L255 262L254 264L254 272L253 272L253 280L252 282L252 283L250 284L247 285L246 285L240 288L238 288L230 292L230 293L229 294L229 324L230 324L230 326L232 327L232 328L236 330L238 330L240 331L242 331L244 332L250 332L252 333L253 334L254 334L255 336L255 338L254 340L254 343L252 345L250 346L246 344L244 344L240 342L216 342L214 343L212 343L210 344L208 344L204 346L203 346L202 347L200 348L200 349L199 350L198 352L197 352L196 354L196 356L195 356L195 358L194 360L194 365L193 366L193 376L192 378L192 380L193 382L193 384L194 386L194 388L196 390L197 392L197 394L196 396L192 400L191 400L190 402L189 402L188 404L187 404L186 406L184 408L184 409L183 410L182 412L181 412L180 414L179 414L178 415L176 416L176 417L174 418L170 422L170 424L168 428L168 429L167 430L166 432L166 434L164 438L163 438L162 440L162 441L160 442L160 443L158 444L154 448L154 449L153 450L152 452L151 452L150 454L149 454L148 456L147 456L146 457L144 458L128 458L126 459L124 459L122 460L118 460L116 461L114 461L112 460L111 460L110 459L108 458L107 458L106 457L104 456L103 456L102 455L100 454L98 454L94 452L94 451L93 450L92 448L92 442L91 440L91 434L90 432L88 430L86 429L83 428L82 428L78 430L78 431L77 432L76 434L76 456L77 458L77 464L76 466L75 466L72 469L70 470L69 470L68 471L66 472L65 472L64 474L63 474L62 476L62 506L61 508L58 511L56 512L56 513L54 514L53 514L52 515L50 516L48 518L46 518L46 259L48 259L50 258L52 258L56 256L58 254L59 252L61 250L62 248L66 244L72 241L74 239L74 238L78 234L80 233L82 231L84 230L86 230L88 231L90 231L92 232L104 232L108 230L110 230L112 229L134 229L136 230L146 230L148 229L151 226L151 216L150 214L150 208L151 206L153 204L153 203L156 202L157 202L158 201L160 201L161 200L162 200L163 198L164 198L167 192L170 189L178 185L179 184L181 180L181 178L182 177L182 174L183 172L183 166L184 165L184 156L185 154L185 152L186 151L186 150L190 148L194 148L196 149L206 149L207 150L208 150L210 151L211 152L212 152L212 156L213 158L213 168L212 170L210 172L206 174L204 174L202 175L199 178L198 180L198 186L199 188L199 198L198 200L198 204L197 204L197 212L198 212L198 214L200 215L201 216L208 216L210 215L228 215L229 216L237 216L240 214L241 212L242 211L242 210L243 208L248 203L250 202L252 202L254 200L255 198L255 197L256 196L256 165L255 164L254 162L253 162L252 161L250 160L249 160L248 159L246 158L245 158L243 156L242 154L242 150L243 148L243 142L244 141L244 138L246 134L248 132L250 131L252 129L254 128L256 124L256 122L257 120L257 117ZM168 318L168 320L167 320L167 322L166 324L166 325L162 329L158 329L156 330L155 330L154 331L152 332L150 336L150 338L151 340L153 342L154 342L156 343L178 343L179 342L180 342L182 338L182 320L181 320L181 318L180 316L179 316L178 315L176 314L172 314ZM121 360L120 362L120 368L121 370L122 370L124 372L126 373L130 373L132 372L134 370L135 368L136 368L136 361L135 360L134 358L130 356L128 356L126 357L124 357ZM676 118L676 120L677 122L678 122L678 124L679 126L679 128L680 129L680 134L681 136L681 140L682 140L682 142L683 144L684 145L684 146L686 147L687 148L688 148L690 149L692 149L692 150L694 150L696 151L696 152L697 154L698 154L699 156L700 156L701 158L702 158L703 160L704 160L706 161L707 162L708 162L710 163L710 164L712 165L713 166L713 182L712 183L710 184L708 184L706 185L686 185L684 184L664 184L662 185L658 185L656 184L654 184L654 183L652 182L651 182L650 180L650 179L648 178L648 177L646 176L642 176L640 174L639 174L638 172L638 166L639 164L642 161L646 159L650 155L650 136L649 136L649 118ZM894 118L937 118L938 119L938 122L939 124L940 124L940 126L941 128L942 128L943 130L944 130L945 132L946 132L948 133L950 133L950 134L954 134L954 197L936 197L934 198L918 198L916 199L912 199L910 200L907 200L906 201L904 201L898 204L896 206L894 210L894 216L893 218L893 226L894 226L894 228L896 229L896 230L900 232L902 232L904 233L916 233L920 235L920 254L921 256L922 257L922 258L924 259L926 259L927 260L930 260L932 261L934 261L935 262L936 262L938 263L939 264L939 265L940 266L938 270L937 270L936 272L935 272L934 273L926 277L925 278L924 280L923 280L922 282L920 284L920 285L914 291L912 292L910 294L908 295L907 296L906 296L902 298L900 298L896 300L894 302L892 306L892 307L891 308L890 310L890 311L888 312L888 313L886 313L884 314L880 314L876 316L874 316L872 317L870 317L868 316L866 314L865 314L864 313L862 313L860 312L852 312L848 310L847 310L846 308L846 262L847 260L847 254L848 253L848 251L847 250L846 248L846 247L844 246L843 246L842 245L840 244L838 244L838 243L836 242L835 242L834 240L834 239L833 238L832 236L830 234L830 233L828 232L828 231L824 231L822 232L818 236L818 237L817 238L816 240L815 240L814 241L812 241L810 242L808 241L794 241L792 240L789 240L788 239L786 238L786 237L784 236L784 235L778 232L777 232L776 231L774 230L770 230L768 229L748 229L746 230L744 230L742 231L740 231L738 232L736 232L734 233L726 233L724 232L700 232L698 233L697 234L696 236L696 241L695 242L694 244L692 246L690 247L672 247L670 248L668 250L667 250L666 252L664 254L662 254L660 255L646 255L644 256L640 256L636 258L634 260L634 261L633 262L632 264L632 267L631 268L631 270L630 272L630 273L621 282L618 288L618 291L617 292L617 310L616 312L615 312L614 313L608 313L606 312L605 312L604 310L603 310L603 292L602 290L600 288L599 288L598 287L596 286L596 285L594 284L594 283L592 282L592 281L590 280L590 279L588 277L584 275L568 275L566 274L565 274L564 273L562 272L562 271L560 270L560 268L559 268L559 262L560 261L560 260L561 258L561 256L562 254L562 252L565 246L568 243L570 242L572 240L573 238L578 233L584 230L585 230L588 227L588 226L589 224L589 222L588 220L586 218L582 216L581 216L580 215L578 214L578 213L576 212L576 210L575 210L575 196L576 194L578 192L584 189L588 189L590 188L592 188L594 187L596 187L598 186L599 186L600 185L602 184L604 182L605 180L606 179L608 178L609 178L610 177L616 177L620 179L620 183L616 187L610 190L608 192L608 195L607 196L607 226L608 226L609 228L610 228L614 230L616 230L618 231L620 231L622 232L648 232L650 231L652 231L656 229L690 229L692 228L696 228L696 224L697 222L698 221L704 218L708 218L710 217L712 217L714 216L716 216L720 214L721 214L728 207L734 204L736 204L740 202L741 200L741 199L743 198L743 196L744 196L744 194L746 192L750 190L752 190L754 189L756 189L760 187L762 187L764 186L782 186L784 185L788 181L788 180L790 179L792 177L794 176L800 176L802 175L806 175L812 172L814 170L815 168L818 165L820 164L821 164L822 163L828 163L830 162L836 162L838 161L844 161L846 160L850 160L852 159L854 159L858 157L862 153L862 152L866 150L867 149L870 148L873 148L874 147L876 146L878 144L880 140L880 138L882 134L886 130L887 130L888 129L890 128L891 126L892 125L892 124L893 122L893 120ZM410 177L412 177L414 176L416 176L418 177L420 177L422 178L426 178L428 179L436 179L438 180L440 180L442 181L442 182L444 183L444 184L446 185L446 186L448 187L448 188L449 190L450 191L450 194L451 196L451 198L452 199L452 202L453 204L454 205L454 206L455 208L455 210L454 212L454 213L450 217L446 219L438 219L436 218L431 218L430 217L428 217L426 216L423 216L422 215L420 214L417 214L416 213L414 212L412 212L412 211L410 210L410 191L409 190L409 188L407 184L407 180L408 180L409 178ZM66 187L68 186L70 186L72 187L74 187L74 188L76 189L76 190L77 192L78 193L78 210L76 212L74 213L60 213L58 214L50 214L48 215L46 215L46 202L48 202L50 201L52 201L54 200L55 200L57 198L58 198L59 196L60 195L60 194L62 192L63 190ZM536 187L538 186L540 186L542 187L544 187L545 188L548 188L550 189L552 189L554 190L556 190L560 194L560 212L559 212L558 214L558 215L556 217L554 218L540 218L538 219L536 218L536 217L535 216L535 214L534 212L534 206L533 204L533 202L532 200L532 196L531 196L532 194L532 192L533 190ZM550 318L552 317L556 317L557 318L558 318L559 320L560 320L561 322L562 322L563 324L565 326L566 326L567 328L568 328L570 329L570 330L572 331L572 332L574 333L574 334L575 336L575 338L574 340L574 343L573 344L573 346L572 348L572 354L571 354L571 368L572 368L572 372L573 374L573 376L574 377L574 380L575 382L575 384L576 384L577 386L579 388L580 388L586 391L586 392L589 398L592 401L594 401L596 402L616 402L618 401L620 401L621 400L622 400L626 398L636 398L638 399L644 399L648 397L650 395L650 394L652 392L654 391L656 391L658 390L664 390L666 391L686 391L688 390L708 390L712 392L716 396L717 398L718 398L726 406L728 407L728 408L730 409L733 412L734 412L735 414L736 414L737 416L742 421L742 422L744 423L744 424L746 425L748 427L752 429L755 432L756 432L757 434L763 440L764 440L768 444L769 446L770 446L771 448L772 449L772 450L774 451L774 452L776 453L777 454L778 454L784 457L785 458L786 458L788 460L789 462L789 468L788 470L788 473L787 474L787 480L788 480L789 482L791 484L792 484L794 485L796 485L797 484L800 484L802 483L812 483L813 482L816 481L818 479L818 478L820 477L820 476L824 474L826 474L828 473L829 472L830 472L836 469L837 468L838 468L840 467L841 466L842 466L844 465L845 464L846 464L848 462L852 460L856 460L862 457L862 456L864 454L865 452L866 451L866 450L867 448L868 447L868 446L870 444L872 443L872 442L874 441L874 440L876 439L876 438L877 436L878 435L878 434L879 432L880 432L881 430L882 429L882 428L884 427L884 426L886 425L886 424L888 422L889 420L889 418L890 418L890 416L891 414L892 413L892 412L893 410L894 409L894 408L895 406L896 406L898 404L900 403L902 403L904 402L906 402L908 401L910 401L911 400L914 399L916 399L918 400L920 402L921 404L922 404L922 406L924 407L924 408L925 410L926 410L927 412L928 412L930 414L934 414L938 410L939 408L940 407L940 406L942 405L942 404L946 402L948 402L950 401L954 401L954 586L950 586L946 588L945 588L944 589L942 590L942 591L941 592L940 594L939 594L938 596L937 596L936 598L935 598L934 600L933 600L932 601L930 602L929 602L928 603L926 604L924 606L923 606L922 607L920 608L918 608L916 609L908 609L906 610L903 610L902 611L900 612L899 612L898 614L897 614L896 616L895 616L894 618L892 620L891 620L890 622L889 622L888 624L887 624L886 626L885 626L884 628L883 628L882 630L881 630L878 633L876 634L876 635L874 636L874 637L873 638L872 640L871 640L868 643L866 644L866 645L864 646L864 647L862 648L861 648L860 650L859 650L857 652L856 654L855 654L854 656L854 657L853 658L852 660L852 662L851 662L851 664L850 666L850 667L849 668L848 670L848 671L846 672L846 674L845 674L844 676L844 677L843 678L842 680L842 681L841 682L690 682L692 681L692 680L693 678L694 678L695 676L696 676L697 674L698 674L700 673L700 672L702 671L702 670L704 670L705 668L708 667L708 666L710 665L710 664L711 662L711 654L710 652L710 646L711 644L712 643L712 642L714 641L716 641L716 640L721 640L722 641L736 641L736 640L738 639L738 638L739 636L739 632L738 630L738 629L736 628L732 628L730 627L728 627L726 626L724 626L722 625L698 625L696 626L687 626L686 627L684 628L684 629L683 630L682 632L681 632L680 634L680 635L678 636L678 637L676 638L670 638L669 639L668 639L666 640L665 640L664 642L664 643L663 644L662 646L662 649L661 650L660 652L660 653L658 654L658 655L656 656L656 657L654 658L654 660L653 660L653 668L652 670L652 682L312 682L313 680L314 680L314 678L316 677L316 676L317 674L318 674L320 673L321 672L328 672L330 671L331 670L332 670L333 668L334 667L334 666L335 664L335 662L336 662L336 658L337 656L338 656L338 654L340 653L341 652L342 652L344 651L344 650L346 650L347 648L348 648L349 646L351 644L352 644L354 643L354 642L356 642L358 641L358 640L360 639L361 638L362 638L363 636L364 636L365 634L366 634L367 632L368 632L369 630L370 630L372 629L372 628L374 627L374 626L376 625L376 624L377 622L378 622L379 620L380 620L381 618L383 616L384 616L386 615L388 615L389 614L392 614L394 613L394 612L396 612L398 611L399 610L418 610L420 609L422 609L422 608L424 607L424 606L426 605L426 604L428 602L430 601L430 600L432 600L434 599L434 598L435 598L438 597L440 597L440 596L442 596L444 595L446 595L446 594L448 594L449 592L450 592L450 590L453 584L454 583L454 582L455 580L455 578L456 578L456 576L457 574L458 574L458 572L460 571L461 570L462 570L464 568L465 566L466 566L467 564L468 563L468 562L469 560L470 560L470 558L472 557L472 556L474 555L475 554L476 554L478 553L479 552L480 552L481 550L482 550L483 548L484 548L485 546L489 542L490 542L491 540L492 540L494 539L494 538L496 537L496 536L497 534L498 534L498 532L499 530L499 528L500 528L500 524L501 522L501 520L502 519L502 518L503 516L504 515L504 514L506 512L508 511L512 507L512 506L514 505L514 504L516 503L517 502L518 502L520 501L522 501L523 500L524 500L526 499L527 498L528 498L529 496L530 496L533 490L534 490L536 488L540 488L546 485L546 484L548 482L549 480L549 478L550 477L550 476L553 470L554 469L554 468L555 466L555 462L556 462L556 448L555 448L554 446L552 445L550 445L548 444L546 444L542 442L541 442L540 441L538 440L536 438L535 438L532 435L530 434L529 434L528 433L516 433L514 432L506 432L502 434L501 434L498 437L494 439L490 439L488 440L486 440L484 441L482 441L480 442L474 442L472 440L471 440L470 438L470 437L469 436L469 432L470 431L470 426L471 424L471 420L470 418L468 416L464 414L460 414L456 412L456 411L455 410L454 408L454 406L455 404L456 403L456 402L458 400L460 399L461 398L462 398L464 397L465 396L466 396L468 395L468 394L470 393L470 392L474 390L476 390L480 388L482 388L486 386L490 386L492 385L496 385L498 384L501 384L504 383L506 383L508 382L510 382L512 381L513 380L514 380L515 378L516 378L516 376L517 374L517 372L518 371L518 360L517 360L517 358L516 356L516 355L515 354L514 352L514 350L524 340L527 334L528 333L528 332L530 331L530 330L532 329L534 327L540 324L541 324L543 322L544 322L546 320L548 319L549 318ZM588 482L584 484L584 485L582 486L582 487L580 488L580 489L576 493L570 496L570 497L568 498L566 498L566 499L564 500L564 501L563 502L562 504L562 521L561 522L560 524L559 524L558 525L556 526L555 526L554 527L552 527L550 528L550 529L548 530L548 531L547 532L546 534L548 538L550 540L554 542L555 542L556 543L560 545L561 546L561 548L562 548L562 565L560 567L558 568L558 569L548 569L546 568L542 568L540 567L534 567L532 566L516 566L514 567L510 567L508 568L497 568L496 569L494 569L492 570L490 570L490 571L488 572L487 572L486 574L486 578L487 580L490 583L492 583L494 585L494 586L495 588L496 589L496 594L497 596L497 598L498 600L498 602L499 604L500 605L500 606L502 608L503 610L504 610L506 611L508 611L509 610L510 610L511 608L512 608L513 606L514 606L515 604L516 604L518 603L518 602L520 602L522 601L524 601L526 600L532 600L536 598L538 598L539 596L540 596L541 594L542 593L542 592L544 591L544 590L546 588L548 587L548 586L550 586L552 585L570 585L577 592L578 592L582 594L588 594L590 595L592 595L598 598L600 597L600 596L602 594L602 592L603 590L603 588L604 588L604 586L605 584L606 584L607 582L608 582L610 581L614 581L616 580L617 578L618 578L618 572L619 570L619 566L620 565L620 564L621 562L622 561L622 560L624 559L625 558L626 558L628 557L629 556L630 556L631 554L632 554L633 552L634 552L634 550L636 549L636 548L637 546L638 546L640 545L641 544L648 544L650 545L660 545L661 544L662 544L664 543L664 542L666 541L666 540L667 538L668 538L668 536L669 534L669 530L668 528L668 519L667 518L667 516L664 513L662 512L652 512L650 513L646 513L644 514L642 514L642 515L640 516L639 516L636 522L635 522L634 524L634 525L632 526L631 526L630 527L626 527L624 526L623 526L619 522L619 518L620 518L620 516L621 514L622 513L622 508L623 506L623 490L622 488L622 486L620 484L620 483L618 482L616 482L614 481L602 481L600 480L598 480L596 481L592 481L590 482ZM760 500L758 502L758 503L757 504L757 520L758 522L760 524L762 525L768 525L769 524L770 524L771 522L772 521L772 504L771 502L768 499L762 499ZM766 372L768 373L768 376L769 378L769 380L768 382L768 384L767 384L766 386L764 386L762 384L762 383L761 382L761 376L762 374L764 372ZM308 400L312 400L314 401L317 404L318 404L319 406L322 409L322 410L326 414L328 415L331 418L332 418L336 422L338 423L338 424L340 425L340 426L342 427L342 428L343 430L344 430L344 432L345 434L345 436L344 438L344 439L343 440L342 442L341 442L340 444L339 444L338 446L337 446L336 448L332 452L331 452L330 453L324 453L322 454L314 454L312 455L310 455L308 454L304 454L302 453L290 453L288 454L284 454L282 455L280 455L278 454L277 454L275 452L274 450L274 448L275 446L275 442L276 441L276 436L277 434L278 433L278 432L280 430L282 430L284 429L284 428L286 427L286 426L288 424L289 422L289 420L290 420L291 418L295 414L296 414L298 412L299 410L300 410L300 408L301 406L302 405L302 404L304 403L304 402ZM430 413L432 412L436 414L437 416L438 417L438 418L439 420L439 422L440 422L440 424L442 426L444 427L445 428L448 428L452 430L453 432L454 433L454 438L452 440L452 441L450 442L442 442L440 441L438 441L436 440L432 440L430 439L429 438L428 436L428 432L427 430L427 418L428 417L428 416L429 414ZM352 459L358 459L362 463L362 464L363 466L364 467L364 468L366 470L374 474L375 476L375 478L376 478L376 486L377 488L377 492L376 494L376 495L374 496L373 496L372 497L370 497L368 498L365 498L364 499L362 499L360 500L359 500L358 501L354 501L352 500L350 500L346 498L344 498L342 497L340 497L337 494L337 474L338 474L339 472L341 470L342 470L344 468L345 466L346 466L346 464L350 460ZM156 488L158 487L164 487L165 488L166 488L167 490L168 490L169 492L170 493L170 494L172 495L172 496L174 497L176 499L176 500L177 502L178 503L178 510L177 510L176 512L176 513L174 514L174 515L172 516L171 516L168 522L168 523L167 524L166 526L166 530L165 530L165 554L166 555L166 556L168 560L168 564L167 564L166 566L165 566L164 567L162 568L158 568L156 569L150 569L148 570L145 570L144 571L142 572L140 574L139 574L138 576L138 577L136 578L136 579L134 579L132 580L124 580L122 581L108 581L106 582L105 582L104 583L102 584L100 584L100 585L98 586L97 586L96 588L95 588L94 590L93 590L92 592L92 593L90 594L90 595L88 596L88 597L86 598L86 599L84 600L64 600L62 599L46 599L46 586L52 586L54 585L60 585L61 584L64 584L66 583L68 583L68 582L70 582L71 580L72 580L73 578L74 578L74 576L76 575L76 574L77 572L78 572L80 570L82 569L83 568L84 568L86 567L86 566L88 565L88 564L92 560L94 559L98 559L100 558L126 558L128 557L132 557L132 556L134 556L135 554L136 554L138 550L138 548L139 546L140 546L140 544L142 543L142 542L148 539L148 538L149 536L149 504L150 503L150 500L152 496L152 494L153 492L153 490L154 490L155 488ZM232 600L234 599L240 599L241 600L242 600L243 602L244 603L244 606L243 606L242 608L242 609L240 610L240 611L238 612L237 612L236 613L234 614L232 614L232 615L230 616L230 617L229 618L228 620L228 622L227 622L227 624L226 626L226 628L224 632L224 634L222 636L222 638L221 638L220 640L220 642L219 642L218 644L218 645L217 646L216 648L216 650L215 650L215 652L214 654L214 655L213 656L212 658L211 658L210 660L210 661L208 662L208 663L207 664L206 666L206 667L204 668L204 669L203 670L202 672L201 672L200 674L200 675L198 676L198 677L197 678L196 680L194 680L194 681L192 682L146 682L147 680L148 679L148 678L149 676L150 675L150 672L151 670L151 668L152 668L152 664L153 662L153 660L154 660L154 658L155 656L156 656L157 654L158 654L160 653L160 652L162 651L163 650L164 650L165 648L166 648L166 646L168 645L168 644L170 643L170 642L172 641L172 640L174 639L175 638L176 638L178 636L180 635L182 633L182 632L183 630L183 622L184 621L184 618L185 616L186 616L188 614L192 614L194 613L200 613L201 612L204 612L206 611L206 610L208 609L208 608L209 606L210 606L211 604L212 604L214 602L216 602L218 601L226 601L227 600ZM100 642L101 644L101 662L102 664L102 678L103 680L103 682L86 682L86 680L87 678L88 678L88 676L89 674L90 673L90 672L91 670L91 668L92 667L92 646L94 644L96 643L96 642Z"/>
<path fill="#00dc00" d="M670 131L672 131L674 130L675 132L676 132L676 134L677 136L677 138L678 139L678 144L679 146L680 147L680 148L681 150L682 150L682 152L683 154L682 156L682 164L681 166L681 170L680 172L680 173L678 175L676 176L671 176L670 175L668 174L668 173L667 172L666 170L666 164L665 164L665 136ZM936 145L944 145L946 144L954 144L954 191L946 191L943 190L913 190L912 189L910 188L910 187L909 186L908 184L908 166L909 164L912 161L914 160L918 160L920 159L921 158L925 150L926 149L926 148L930 146L934 146ZM426 188L430 186L434 186L436 187L436 188L438 188L439 190L440 191L440 192L441 194L441 208L440 210L440 211L438 213L436 213L434 214L431 214L430 213L428 213L426 212L424 212L424 211L422 210L422 194L425 188ZM804 187L818 187L819 188L858 188L860 190L862 191L862 192L863 194L863 216L839 216L838 217L832 217L830 218L822 218L820 217L814 217L812 216L804 216L800 214L798 214L798 213L796 212L796 211L795 210L795 194L796 192L798 190ZM324 191L328 191L329 192L330 192L332 193L332 194L333 196L333 198L334 198L334 212L333 212L332 214L330 216L322 220L320 222L320 223L319 224L318 226L318 227L316 229L314 230L305 230L304 228L304 227L303 226L303 222L304 222L305 220L309 216L310 216L312 214L313 214L315 212L315 210L316 210L316 208L317 206L317 202L318 201L318 200L319 198L319 196L320 195L320 194L322 192ZM864 216L872 216L878 219L878 220L879 222L879 230L878 232L878 259L870 259L868 258L865 258L863 256L862 254L862 253L861 252L861 250L862 248L862 242L863 240L863 218ZM234 229L236 229L237 230L238 230L240 231L240 232L241 234L242 235L242 238L243 240L243 248L244 249L244 276L245 278L245 280L243 282L242 282L238 284L236 284L234 285L230 285L228 286L226 286L224 287L188 287L186 288L184 290L182 294L182 295L181 296L180 298L180 299L177 302L164 302L162 301L142 301L141 302L140 302L138 304L136 308L136 324L137 326L137 332L138 333L138 338L136 342L134 344L132 344L130 345L122 345L120 344L116 344L114 343L92 343L91 342L91 322L90 320L90 318L89 318L87 316L86 316L84 315L82 315L80 316L79 316L78 317L76 318L76 319L75 320L74 322L74 338L75 340L76 340L77 342L78 342L80 343L84 343L86 344L88 344L90 345L90 346L91 348L91 354L92 354L93 356L94 357L96 358L102 358L104 359L105 360L106 360L107 362L107 370L106 372L106 373L105 374L105 382L106 382L107 384L108 384L112 386L116 386L118 385L130 385L131 384L132 384L134 382L135 380L136 380L137 378L141 374L142 374L144 373L168 373L170 372L178 372L182 374L183 376L184 376L184 385L183 386L183 390L182 392L182 394L181 394L181 396L180 398L180 401L179 402L179 406L178 408L178 409L176 411L174 412L174 413L172 414L171 414L170 416L169 416L168 418L167 418L166 420L164 422L164 424L163 424L162 426L162 427L160 428L154 428L152 427L136 427L134 428L126 428L124 426L123 426L122 424L122 423L121 422L121 418L122 417L122 410L123 408L123 406L122 404L120 402L116 400L96 400L94 399L74 399L72 400L68 400L64 402L63 402L61 404L60 406L60 407L59 408L59 424L58 426L57 426L56 427L52 429L48 429L46 430L46 304L48 304L50 303L52 303L56 301L56 300L58 298L59 296L59 294L60 294L60 292L64 288L65 288L66 287L70 287L74 285L75 284L76 282L76 264L77 262L80 259L132 259L132 260L134 261L134 262L135 264L136 264L136 266L137 268L138 268L138 270L140 271L140 272L142 272L144 273L146 273L150 271L150 270L151 268L151 238L152 237L152 236L153 234L154 234L156 232L158 231L162 231L163 232L164 232L165 234L166 234L166 236L167 238L167 254L168 255L168 256L170 257L170 258L172 258L174 259L176 259L177 260L178 260L180 262L181 264L182 265L182 266L183 268L184 269L184 270L186 272L188 273L222 273L224 272L226 270L227 268L227 236L228 235L228 234L229 232L230 231ZM616 238L617 240L618 240L619 242L619 244L620 244L620 248L621 250L621 254L620 256L620 261L619 262L618 264L614 266L613 266L612 265L610 264L609 264L608 262L608 261L607 260L606 258L606 253L605 252L606 250L606 246L609 240L610 239L612 238ZM900 243L903 243L905 244L906 244L908 245L908 246L909 248L910 248L910 257L909 258L909 260L908 262L908 270L909 272L909 278L910 278L910 280L908 284L908 285L906 287L902 289L896 289L894 288L890 288L888 287L884 287L882 286L881 286L880 284L879 284L878 282L878 260L880 259L886 259L888 258L889 258L892 255L892 254L896 246L898 244L899 244ZM480 300L482 302L483 304L483 308L482 310L480 311L472 311L470 312L468 312L466 313L464 313L462 314L458 314L456 312L455 312L454 310L454 306L455 304L456 303L456 302L460 300ZM544 330L546 329L548 329L550 328L554 328L556 329L557 330L558 330L559 332L560 332L561 334L561 336L562 337L562 366L563 368L564 369L564 370L568 372L570 374L570 376L571 378L571 382L572 383L572 386L573 388L574 389L574 390L576 392L576 396L575 398L575 402L574 404L574 408L575 410L576 410L578 412L582 414L584 414L586 415L588 417L588 418L589 420L590 421L590 422L591 424L592 425L592 426L596 428L630 428L632 427L633 426L634 426L635 424L635 422L636 422L636 420L637 418L638 417L638 416L640 414L642 413L652 413L654 414L660 414L664 412L666 408L666 406L669 400L671 398L682 398L684 399L706 399L706 400L708 401L710 403L710 404L712 405L712 406L718 412L720 413L723 416L724 416L725 418L726 419L726 429L725 430L725 436L727 440L728 440L730 441L731 442L742 442L744 441L752 441L753 442L754 442L755 444L756 444L757 446L758 447L758 458L757 460L757 464L756 466L756 467L754 469L750 471L748 471L746 472L745 472L744 474L743 474L742 476L742 478L741 478L741 480L740 482L739 482L738 484L737 484L736 485L716 485L714 486L714 487L712 488L712 491L711 492L712 493L712 494L713 496L714 497L718 499L722 499L723 500L724 500L725 502L726 502L726 527L702 527L700 526L698 524L696 520L696 489L695 488L694 486L693 486L692 485L686 485L684 484L678 484L676 483L656 483L654 481L652 480L652 479L651 478L650 476L650 475L649 474L648 472L646 470L644 469L640 469L638 470L631 470L630 471L624 471L622 472L614 472L612 473L590 473L588 472L581 472L580 473L578 474L577 474L576 476L576 477L575 478L574 480L574 481L573 482L572 484L570 486L566 486L562 484L561 484L559 482L558 480L558 476L560 472L560 470L561 468L561 452L560 450L560 447L559 446L558 444L552 441L550 441L548 440L547 440L546 439L544 438L544 437L543 436L542 434L540 432L540 431L538 430L538 429L536 429L532 427L502 427L500 428L499 428L498 429L496 429L494 430L490 430L486 428L483 425L483 416L484 415L484 399L483 398L483 392L484 392L486 391L487 390L488 390L490 389L498 389L500 388L510 388L511 387L518 387L520 386L522 386L524 385L525 384L526 384L527 382L528 381L528 350L529 348L529 346L530 344L530 342L531 340L531 338L533 334L535 332L536 332L538 331L540 331L542 330ZM898 414L900 412L906 412L908 413L918 413L918 414L920 415L920 416L922 418L925 424L926 425L930 427L934 427L938 431L938 432L939 434L940 435L940 436L941 438L945 442L946 442L948 443L952 443L954 444L954 579L952 580L951 580L950 581L948 581L946 582L945 582L944 583L942 584L942 585L940 586L940 587L938 588L938 589L936 590L936 592L935 592L934 594L932 594L932 595L928 595L926 596L924 596L924 597L922 597L920 598L916 598L912 600L910 600L908 601L900 601L898 602L895 602L894 603L892 604L892 605L890 606L890 607L889 608L888 610L887 610L886 612L885 612L884 614L883 614L882 616L881 616L880 618L878 618L878 619L876 620L876 621L874 622L874 623L872 624L872 625L870 626L870 627L868 628L868 629L866 630L866 631L864 632L863 632L862 634L861 634L860 636L859 636L858 638L857 638L856 640L855 640L854 642L853 642L852 644L851 644L850 646L849 646L848 648L848 652L847 652L847 656L846 658L846 663L845 664L844 666L844 667L842 668L842 669L840 670L838 670L838 671L836 672L836 673L835 674L834 676L834 678L833 678L833 680L832 682L817 682L817 646L816 644L814 643L790 643L788 644L787 644L786 646L786 654L787 656L787 682L706 682L707 680L708 680L709 678L710 677L710 676L712 675L712 674L714 674L715 672L716 672L718 671L718 670L720 669L720 668L722 667L722 666L723 664L724 664L724 662L726 660L727 658L728 657L728 656L730 656L732 655L733 654L738 654L740 653L740 652L742 651L742 650L743 648L743 646L744 645L744 628L743 626L741 625L741 624L740 623L736 623L734 622L732 622L728 620L722 614L720 613L680 613L678 612L671 612L670 613L668 614L668 616L667 616L666 618L666 620L665 620L665 622L664 624L662 626L656 626L656 627L654 628L653 628L652 630L651 630L651 638L652 639L652 642L653 644L653 648L652 650L651 650L650 652L649 652L648 653L646 654L626 654L624 653L621 650L621 632L620 630L620 629L618 627L616 626L612 626L608 624L606 622L606 619L605 618L605 604L606 604L606 600L607 598L607 594L608 594L608 590L609 588L610 588L611 586L616 586L618 585L619 584L620 584L621 582L622 581L622 580L623 578L623 576L624 575L624 574L625 572L626 571L626 570L628 568L630 567L631 566L632 566L633 564L634 564L634 562L636 560L637 558L638 558L639 556L640 556L641 554L658 554L660 553L662 553L662 552L664 552L665 550L666 549L666 548L667 546L668 546L669 544L671 542L672 542L674 541L706 541L708 542L714 542L716 543L720 543L720 542L722 542L723 540L724 540L725 538L726 537L726 534L727 532L727 530L728 530L730 529L732 529L734 528L750 528L752 529L754 529L756 530L760 530L762 531L768 531L770 530L774 530L776 529L778 529L780 528L812 528L814 527L814 526L816 525L816 524L817 522L818 522L819 520L820 519L820 518L822 517L822 516L824 515L825 514L826 514L828 513L828 512L830 511L830 510L832 509L832 483L831 482L831 478L832 477L832 476L834 475L835 474L836 474L840 472L842 472L844 471L846 471L848 470L850 470L852 469L858 469L860 471L860 472L861 474L862 474L862 476L865 482L866 483L870 485L886 485L888 484L890 484L891 482L892 482L893 480L893 476L892 474L892 473L888 471L885 471L884 470L883 470L882 469L880 468L878 464L878 462L877 460L877 458L876 456L876 448L877 446L878 445L878 444L879 442L880 441L880 438L883 432L884 431L890 428L892 426L893 424L894 423L894 422L895 420L895 418L896 417L896 416L897 414ZM882 528L882 529L880 530L880 531L879 532L878 534L878 535L877 536L876 538L876 539L872 541L870 541L868 542L865 542L863 544L862 546L862 547L861 548L861 564L862 565L862 566L863 568L864 569L866 570L867 570L868 571L872 571L873 570L874 570L875 568L876 568L876 566L877 564L878 563L878 562L879 560L880 559L880 558L882 557L882 556L884 556L886 555L904 555L904 554L906 553L907 552L908 552L910 548L910 534L908 530L906 528L904 527L884 527ZM324 427L328 427L332 429L332 430L334 431L334 432L335 434L335 436L334 438L334 439L330 443L328 444L324 444L320 442L320 441L319 440L318 438L318 432L322 428ZM108 444L110 443L112 443L114 442L116 443L118 443L120 445L120 446L121 448L121 450L120 452L120 453L116 455L112 455L106 452L106 451L105 450L105 448L107 444ZM462 582L464 583L466 583L468 585L468 586L469 588L469 634L470 635L470 636L472 638L476 640L478 640L480 639L481 638L482 638L483 636L484 635L484 634L487 628L488 628L490 627L490 626L496 626L498 625L508 625L509 624L510 624L512 623L512 622L514 621L514 620L515 618L516 617L516 616L517 614L518 613L518 612L520 611L521 610L536 610L538 611L539 610L540 610L542 609L544 607L544 606L545 604L546 604L546 602L547 600L548 600L549 598L550 598L554 596L568 596L570 597L572 597L574 598L576 598L578 599L584 599L586 600L587 600L590 603L590 622L589 622L588 624L588 625L586 626L565 626L564 628L563 628L562 630L561 630L560 632L560 634L559 634L558 636L558 638L557 638L556 639L554 640L551 640L550 641L548 642L548 643L546 644L546 646L545 646L544 648L544 650L543 650L542 652L542 653L540 654L536 654L536 655L534 656L533 656L532 658L531 658L530 660L530 662L529 662L529 664L528 666L527 666L526 668L522 670L503 670L502 672L501 672L500 674L500 675L499 676L499 678L498 680L498 682L424 682L424 658L426 657L426 656L430 654L434 654L436 653L438 651L438 650L439 648L439 614L438 612L438 604L439 602L440 602L442 601L443 600L445 600L448 599L450 599L451 598L452 598L453 596L454 596L456 592L456 590L457 588L458 587L458 586L459 584L461 582ZM388 624L390 625L393 628L393 630L394 632L394 648L393 648L393 650L392 652L391 652L390 653L388 654L385 654L384 655L382 656L381 656L380 658L379 659L379 660L378 662L378 664L377 664L376 666L376 667L374 668L374 669L372 670L370 669L368 669L365 666L364 664L364 662L363 660L363 656L362 654L362 646L363 644L364 644L365 642L366 642L368 640L370 639L371 638L372 638L374 636L375 634L376 634L377 632L378 632L378 630L380 629L380 628L382 627L382 626L384 625L385 624ZM200 626L202 625L208 625L212 627L212 628L214 630L214 636L212 640L212 644L211 644L211 646L210 648L210 650L209 650L208 652L208 653L206 654L206 655L204 656L203 656L202 658L201 658L200 660L199 660L198 662L198 664L197 664L196 666L195 666L194 668L193 668L192 669L190 670L186 668L184 666L182 662L182 660L181 658L181 652L180 650L180 646L181 644L182 644L184 643L184 642L186 642L188 641L188 640L190 640L192 639L192 638L194 637L194 636L195 634L196 633L196 630L197 628L198 628L199 626Z"/>
<path fill="#a0e632" d="M48 313L52 313L53 314L54 314L56 315L57 316L58 316L59 318L60 318L60 320L61 322L61 342L60 344L60 350L59 350L59 352L58 354L58 355L56 356L56 357L54 357L52 358L50 358L48 359L46 359L46 312ZM88 372L90 373L92 375L92 383L88 387L82 387L80 386L79 386L77 384L76 382L76 376L78 374L80 373L81 372ZM48 385L52 385L53 386L54 386L56 387L57 388L58 388L59 390L59 394L58 396L58 397L56 398L54 400L53 400L52 401L50 402L49 402L48 403L46 384ZM142 385L164 385L164 386L166 387L167 388L167 390L168 390L168 402L169 404L169 406L168 408L168 409L167 410L166 412L165 412L164 413L162 414L162 415L140 415L138 414L136 412L136 411L135 410L135 400L136 398L136 394L137 392L137 390L138 390L139 388ZM556 386L560 388L561 390L561 398L560 400L560 401L559 402L558 404L556 406L554 407L536 407L533 404L532 402L532 401L531 400L530 398L530 392L531 390L534 387L536 386ZM686 414L688 413L706 413L710 415L710 416L712 418L713 420L713 440L712 442L712 448L711 450L711 452L710 454L709 454L708 456L706 456L704 457L686 457L683 460L682 462L682 463L681 464L680 466L680 468L679 468L678 470L678 471L676 472L658 472L656 471L655 470L654 468L653 468L652 466L652 465L651 464L650 462L650 461L648 460L648 459L646 458L642 458L638 456L638 455L637 454L636 452L636 446L638 444L642 442L662 442L663 440L664 440L666 436L666 434L667 432L668 432L669 430L670 429L672 429L674 428L676 428L678 427L678 426L680 425L680 424L682 420L682 418L683 416L684 416L685 414ZM566 422L568 421L570 422L571 422L574 425L574 428L575 430L575 440L574 442L574 444L573 444L572 446L572 447L570 448L570 449L568 449L566 448L566 447L565 446L564 444L562 442L562 441L560 440L558 438L557 438L556 437L554 436L553 436L553 434L554 433L554 432L556 431L556 430L558 429L559 428L560 428L562 426L563 424L564 424L565 422ZM952 470L954 469L954 554L952 554L950 555L948 555L946 556L943 556L942 558L941 558L940 560L940 577L939 578L938 580L938 581L936 582L936 583L932 585L912 585L910 586L909 586L908 588L908 593L906 594L906 595L904 595L902 596L894 596L890 598L887 598L886 599L884 600L883 600L882 602L881 602L880 604L878 606L878 608L877 608L876 610L875 610L874 612L872 612L872 613L870 614L868 614L868 615L866 616L866 617L864 618L864 620L863 620L862 622L862 623L860 624L860 625L858 626L857 626L856 627L854 628L853 628L852 630L851 630L850 632L849 632L848 634L848 635L847 636L846 638L845 638L843 639L842 640L836 640L834 639L824 639L822 638L794 638L791 637L788 634L786 630L784 628L782 627L781 626L764 626L760 624L758 622L758 621L757 620L757 618L756 616L752 612L746 612L744 613L740 613L738 614L734 614L732 613L729 610L726 604L726 573L724 571L722 570L720 570L718 569L716 569L713 566L712 564L712 563L711 562L712 561L712 558L713 556L714 556L716 555L717 554L722 554L724 552L725 550L726 550L727 548L728 547L728 546L729 544L730 543L730 542L732 541L733 540L758 540L760 539L770 539L772 540L782 540L784 541L786 541L792 547L794 548L796 548L798 547L798 546L800 545L800 544L802 543L802 542L804 542L806 541L807 540L811 540L814 539L814 538L816 537L816 536L817 534L818 534L818 532L820 531L820 530L822 528L824 527L824 526L826 525L827 524L828 524L830 522L831 520L832 519L832 518L834 517L834 516L836 515L837 514L838 514L840 513L842 513L846 515L846 516L848 520L848 542L849 544L849 554L848 556L848 563L847 564L847 568L846 570L846 578L847 580L850 583L852 583L854 584L856 584L858 583L864 583L866 582L874 582L876 583L882 583L884 584L907 584L908 582L908 562L909 560L911 558L912 558L914 556L916 555L918 555L918 554L920 553L920 552L921 550L922 550L922 526L923 524L923 520L924 519L924 518L925 516L927 514L928 514L930 513L934 513L935 512L938 511L938 510L939 508L940 507L940 476L941 474L943 472L944 472L948 470ZM767 640L768 641L770 641L773 644L773 648L772 650L772 652L771 652L770 653L768 654L762 654L758 652L756 650L756 649L755 648L755 646L756 646L756 644L757 642L760 641L762 640ZM741 668L742 669L748 669L750 670L753 670L756 673L756 674L758 678L758 682L720 682L722 681L722 680L723 678L724 678L724 676L726 675L726 674L727 672L728 672L729 670L730 670L732 669L733 668Z"/>
<path fill="#e6dc32" d="M822 556L824 555L826 555L828 556L830 556L832 557L832 558L834 560L834 579L832 581L830 582L830 583L828 583L826 584L818 584L817 582L817 562L818 561L818 558L820 557L820 556ZM814 584L816 585L817 586L817 592L818 592L818 594L820 596L824 598L844 598L846 599L846 600L848 604L848 605L847 606L847 608L846 610L845 610L844 611L842 612L838 612L836 614L835 614L832 620L832 622L831 622L830 624L830 625L828 626L828 627L824 627L822 626L821 626L816 616L816 615L814 613L812 612L792 612L790 611L789 610L787 606L787 588L788 588L789 586L791 584Z"/>
</g>
<g clip-path="url(#pc)">
<path d="M90.4 119V682M181.3 119V682M272.2 119V682M363.1 119V682M454.0 119V682M544.9 119V682M635.8 119V682M726.8 119V682M817.6 119V682M908.5 119V682M46 174.5H953M46 231.0H953M46 287.5H953M46 344.0H953M46 400.5H953M46 457.0H953M46 513.5H953M46 570.0H953M46 626.5H953" stroke="#ffffff" stroke-opacity="0.38" stroke-width="1" stroke-dasharray="3 5" fill="none"/>
<path d="M82.8 470.2L84.4 464.6L90.8 460.6L98.8 459.8L105.2 463.0L108.4 467.0L102.0 468.6L98.0 469.4L98.8 475.8L104.4 482.2L107.6 496.6L108.4 506.2L113.2 514.2L126.0 515.8L137.2 512.6L142.0 507.8L140.4 495.0L145.2 501.4L153.2 496.6L154.8 487.0L148.4 475.8L153.2 474.2L161.2 483.8L174.0 484.6L190.0 486.2L206.0 483.0L222.0 483.8L231.6 487.0L234.0 496.6L231.6 504.6L222.0 511.0L206.0 515.8L190.0 514.2L177.2 515.8L164.4 522.2L150.0 530.2L138.8 530.2L126.0 528.6L110.0 528.6L97.2 530.2L95.6 523.8L97.2 512.6L95.6 495.0L94.0 480.6L87.6 474.2Z" fill="none" stroke="#000" stroke-width="2.1" stroke-linejoin="round"/>
<path d="M153.2 496.6L158.0 506.2L156.4 515.8L153.2 523.8" fill="none" stroke="#000" stroke-width="1.2"/>
<path d="M161.2 483.8L164.4 495.0L174.0 496.6L180.4 507.8L177.2 515.8" fill="none" stroke="#000" stroke-width="1.2"/>
<path d="M174.0 484.6L175.6 493.4L186.8 496.6L190.0 503.0L190.0 514.2" fill="none" stroke="#000" stroke-width="1.2"/>
<path d="M190.0 486.2L193.2 496.6L199.6 503.0L202.8 512.6" fill="none" stroke="#000" stroke-width="1.2"/>
<path d="M206.0 483.0L204.4 495.0L206.0 506.2L209.2 514.2" fill="none" stroke="#000" stroke-width="1.2"/>
<path d="M113.2 514.2L116.4 522.2L126.0 523.8L138.8 522.2L150.0 530.2" fill="none" stroke="#000" stroke-width="1.2"/>
<path d="M95.6 495.0L102.0 496.6L107.6 496.6" fill="none" stroke="#000" stroke-width="1.2"/>
<path d="M97.2 512.6L105.2 511.0L113.2 514.2" fill="none" stroke="#000" stroke-width="1.2"/>
<path d="M676.8 310.2L682.4 305.4L688.0 300.6L694.4 296.6L697.6 291.8L704.0 289.4L710.4 287.8L716.8 287.0L723.2 285.4L729.6 283.8L734.4 281.4L740.0 281.4L744.0 283.8L744.8 288.6L741.6 289.8L734.4 291.0L728.0 292.6L721.6 294.2L715.2 297.4L709.6 300.6L705.6 304.6L700.0 308.6L694.4 311.0L688.0 311.8L681.6 311.8Z" fill="none" stroke="#000" stroke-width="2.6" stroke-linejoin="round"/>
<path d="M696.0 295.8L704.0 293.4L713.6 288.6" fill="none" stroke="#000" stroke-width="1.4"/>
<path d="M706.4 295.0L715.2 299.0" fill="none" stroke="#000" stroke-width="1.4"/>
<path d="M697.6 301.4L697.6 308.6" fill="none" stroke="#000" stroke-width="1.4"/>
<path d="M700.0 300.6L700.0 308.6" fill="none" stroke="#000" stroke-width="1.4"/>
<path d="M702.4 300.6L702.4 307.8" fill="none" stroke="#000" stroke-width="1.4"/>
<path d="M682.4 308.6L692.0 307.0L698.4 301.4" fill="none" stroke="#000" stroke-width="1.4"/>
<path d="M688.0 305.4L694.4 299.0" fill="none" stroke="#000" stroke-width="1.4"/>
<path d="M716.8 289.4L720.0 293.4" fill="none" stroke="#000" stroke-width="1.4"/>
<path d="M721.6 288.6L723.2 293.4" fill="none" stroke="#000" stroke-width="1.4"/>
<path d="M726.4 286.2L728.0 291.8" fill="none" stroke="#000" stroke-width="1.4"/>
<path d="M732.8 283.8L734.4 290.2" fill="none" stroke="#000" stroke-width="1.4"/>
<path d="M736.0 283.0L738.4 287.0L741.6 287.0" fill="none" stroke="#000" stroke-width="1.4"/>
<path d="M708.0 291.0L709.6 297.4" fill="none" stroke="#000" stroke-width="1.4"/>
<path d="M691.2 303.0L696.0 305.4" fill="none" stroke="#000" stroke-width="1.4"/>
<path d="M775.4 296.2L784.8 290.3L795.8 283.5L806.0 275.8L812.8 271.6L819.6 269.9L826.4 270.7L831.5 263.9L838.3 258.0L845.1 255.8L851.9 258.0L852.8 261.4L846.0 269.9L836.6 274.1L828.1 276.7L819.6 280.1L810.3 284.3L799.2 289.4L789.0 293.7L779.7 297.1Z" fill="none" stroke="#000" stroke-width="2.6" stroke-linejoin="round"/>
<path d="M826.4 270.7L830.7 275.8" fill="none" stroke="#000" stroke-width="1.2"/>
<path d="M778.8 295.4L793.3 289.4L807.7 281.8L819.6 276.7L826.4 274.1" fill="none" stroke="#000" stroke-width="1.2"/>
</g>
<rect x="45" y="118" width="909" height="565" fill="none" stroke="#000" stroke-width="2"/>
<path d="M90.4 684V688M181.3 684V688M272.2 684V688M363.1 684V688M454.0 684V688M544.9 684V688M635.8 684V688M726.8 684V688M817.6 684V688M908.5 684V688M40 118.0H44M40 174.5H44M40 231.0H44M40 287.5H44M40 344.0H44M40 400.5H44M40 457.0H44M40 513.5H44M40 570.0H44M40 626.5H44M40 683.0H44" stroke="#000" stroke-width="1" fill="none"/>
<text x="38.5" y="123.6" text-anchor="end" class="ax" textLength="25.9" lengthAdjust="spacingAndGlyphs">20N</text>
<text x="38.5" y="180.1" text-anchor="end" class="ax" textLength="37.6" lengthAdjust="spacingAndGlyphs">19.9N</text>
<text x="38.5" y="236.6" text-anchor="end" class="ax" textLength="37.6" lengthAdjust="spacingAndGlyphs">19.8N</text>
<text x="38.5" y="293.1" text-anchor="end" class="ax" textLength="37.6" lengthAdjust="spacingAndGlyphs">19.7N</text>
<text x="38.5" y="349.6" text-anchor="end" class="ax" textLength="37.6" lengthAdjust="spacingAndGlyphs">19.6N</text>
<text x="38.5" y="406.1" text-anchor="end" class="ax" textLength="37.6" lengthAdjust="spacingAndGlyphs">19.5N</text>
<text x="38.5" y="462.6" text-anchor="end" class="ax" textLength="37.6" lengthAdjust="spacingAndGlyphs">19.4N</text>
<text x="38.5" y="519.1" text-anchor="end" class="ax" textLength="37.6" lengthAdjust="spacingAndGlyphs">19.3N</text>
<text x="38.5" y="575.6" text-anchor="end" class="ax" textLength="37.6" lengthAdjust="spacingAndGlyphs">19.2N</text>
<text x="38.5" y="632.1" text-anchor="end" class="ax" textLength="37.6" lengthAdjust="spacingAndGlyphs">19.1N</text>
<text x="38.5" y="688.6" text-anchor="end" class="ax" textLength="25.9" lengthAdjust="spacingAndGlyphs">19N</text>
<text x="90.4" y="701" text-anchor="middle" class="ax" textLength="38.1" lengthAdjust="spacingAndGlyphs">81.4W</text>
<text x="181.3" y="701" text-anchor="middle" class="ax" textLength="38.1" lengthAdjust="spacingAndGlyphs">81.2W</text>
<text x="272.2" y="701" text-anchor="middle" class="ax" textLength="27.1" lengthAdjust="spacingAndGlyphs">81W</text>
<text x="363.1" y="701" text-anchor="middle" class="ax" textLength="38.1" lengthAdjust="spacingAndGlyphs">80.8W</text>
<text x="454.0" y="701" text-anchor="middle" class="ax" textLength="38.1" lengthAdjust="spacingAndGlyphs">80.6W</text>
<text x="544.9" y="701" text-anchor="middle" class="ax" textLength="38.1" lengthAdjust="spacingAndGlyphs">80.4W</text>
<text x="635.8" y="701" text-anchor="middle" class="ax" textLength="38.1" lengthAdjust="spacingAndGlyphs">80.2W</text>
<text x="726.8" y="701" text-anchor="middle" class="ax" textLength="27.1" lengthAdjust="spacingAndGlyphs">80W</text>
<text x="817.6" y="701" text-anchor="middle" class="ax" textLength="38.1" lengthAdjust="spacingAndGlyphs">79.8W</text>
<text x="908.5" y="701" text-anchor="middle" class="ax" textLength="38.1" lengthAdjust="spacingAndGlyphs">79.6W</text>
<path d="M100 751L153 742V760Z" fill="#fff" stroke="#000" stroke-width="1"/>
<rect x="153.0" y="742" width="53.3" height="18" fill="#aaaaaa" stroke="#000" stroke-width="1"/>
<rect x="206.3" y="742" width="53.3" height="18" fill="#a000c8" stroke="#000" stroke-width="1"/>
<rect x="259.7" y="742" width="53.3" height="18" fill="#8200dc" stroke="#000" stroke-width="1"/>
<rect x="313.0" y="742" width="53.3" height="18" fill="#1e3cff" stroke="#000" stroke-width="1"/>
<rect x="366.3" y="742" width="53.3" height="18" fill="#00a0ff" stroke="#000" stroke-width="1"/>
<rect x="419.7" y="742" width="53.3" height="18" fill="#00c8c8" stroke="#000" stroke-width="1"/>
<rect x="473.0" y="742" width="53.3" height="18" fill="#00d28c" stroke="#000" stroke-width="1"/>
<rect x="526.3" y="742" width="53.3" height="18" fill="#00dc00" stroke="#000" stroke-width="1"/>
<rect x="579.6" y="742" width="53.3" height="18" fill="#a0e632" stroke="#000" stroke-width="1"/>
<rect x="633.0" y="742" width="53.3" height="18" fill="#e6dc32" stroke="#000" stroke-width="1"/>
<rect x="686.3" y="742" width="53.3" height="18" fill="#e6af2d" stroke="#000" stroke-width="1"/>
<rect x="739.6" y="742" width="53.3" height="18" fill="#f08228" stroke="#000" stroke-width="1"/>
<rect x="793.0" y="742" width="53.3" height="18" fill="#fa3c3c" stroke="#000" stroke-width="1"/>
<path d="M846.3 742L900 751L846.3 760Z" fill="#f00082" stroke="#000" stroke-width="1"/>
<text x="153.5" y="778" text-anchor="middle" class="cb">1</text>
<text x="206.3" y="778" text-anchor="middle" class="cb" textLength="10.6" lengthAdjust="spacingAndGlyphs">5</text>
<text x="259.7" y="778" text-anchor="middle" class="cb" textLength="21.2" lengthAdjust="spacingAndGlyphs">10</text>
<text x="313.0" y="778" text-anchor="middle" class="cb" textLength="21.2" lengthAdjust="spacingAndGlyphs">15</text>
<text x="366.3" y="778" text-anchor="middle" class="cb" textLength="21.2" lengthAdjust="spacingAndGlyphs">20</text>
<text x="419.7" y="778" text-anchor="middle" class="cb" textLength="21.2" lengthAdjust="spacingAndGlyphs">25</text>
<text x="473.0" y="778" text-anchor="middle" class="cb" textLength="21.2" lengthAdjust="spacingAndGlyphs">30</text>
<text x="526.3" y="778" text-anchor="middle" class="cb" textLength="21.2" lengthAdjust="spacingAndGlyphs">50</text>
<text x="579.6" y="778" text-anchor="middle" class="cb" textLength="21.2" lengthAdjust="spacingAndGlyphs">80</text>
<text x="633.0" y="778" text-anchor="middle" class="cb" textLength="31.8" lengthAdjust="spacingAndGlyphs">110</text>
<text x="686.3" y="778" text-anchor="middle" class="cb" textLength="31.8" lengthAdjust="spacingAndGlyphs">140</text>
<text x="739.6" y="778" text-anchor="middle" class="cb" textLength="31.8" lengthAdjust="spacingAndGlyphs">180</text>
<text x="793.0" y="778" text-anchor="middle" class="cb" textLength="31.8" lengthAdjust="spacingAndGlyphs">220</text>
<text x="846.3" y="778" text-anchor="middle" class="cb" textLength="31.8" lengthAdjust="spacingAndGlyphs">250</text>
<text x="170.5" y="74.5" class="t1" textLength="126.5" lengthAdjust="spacingAndGlyphs">Caribbean</text>
<text x="308.5" y="74.5" class="t1" textLength="101.0" lengthAdjust="spacingAndGlyphs">Institute</text>
<text x="425.5" y="74.5" class="t1" textLength="27.0" lengthAdjust="spacingAndGlyphs">for</text>
<text x="471.5" y="74.5" class="t1" textLength="145.5" lengthAdjust="spacingAndGlyphs">Meteorology</text>
<text x="633.5" y="74.5" class="t1" textLength="46.0" lengthAdjust="spacingAndGlyphs">and</text>
<text x="691.0" y="74.5" class="t1" textLength="122.5" lengthAdjust="spacingAndGlyphs">Hydrology</text>
<path d="M780.6 107.6L796.2 76.2" stroke="#000" stroke-width="1.7" fill="none"/>
<text x="75.5" y="101.5" class="t2" textLength="159.5" lengthAdjust="spacingAndGlyphs">Aggregated</text>
<text x="248.5" y="101.5" class="t2" textLength="258.0" lengthAdjust="spacingAndGlyphs">precipitation(mm)</text>
<text x="521.5" y="101.5" class="t2" textLength="60.5" lengthAdjust="spacingAndGlyphs">CAY</text>
<text x="590.0" y="101.5" class="t2" textLength="62.5" lengthAdjust="spacingAndGlyphs">Valid</text>
<text x="672.0" y="101.5" class="t2" textLength="51.5" lengthAdjust="spacingAndGlyphs">02Z</text>
<text x="743.0" y="101.5" class="t2" textLength="34.5" lengthAdjust="spacingAndGlyphs">27</text>
<text x="801.5" y="101.5" class="t2" textLength="33.0" lengthAdjust="spacingAndGlyphs">10</text>
<text x="856.5" y="101.5" class="t2" textLength="63.0" lengthAdjust="spacingAndGlyphs">2014</text>
</svg>
</body></html>
